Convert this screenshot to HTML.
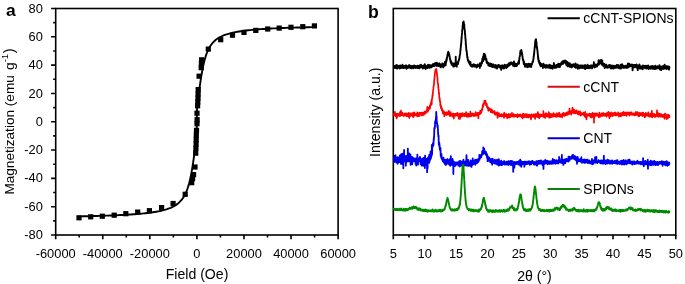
<!DOCTYPE html>
<html><head><meta charset="utf-8"><style>
html,body{margin:0;padding:0;background:#fff;width:685px;height:284px;overflow:hidden}
svg{display:block;will-change:transform}
text{font-family:"Liberation Sans", sans-serif;fill:#000}
</style></head><body>
<svg width="685" height="284" viewBox="0 0 685 284">
<text x="6" y="16.4" font-size="17.4" font-weight="bold">a</text>
<rect x="55.7" y="8.5" width="282.40" height="226.50" fill="none" stroke="#000" stroke-width="1.6"/>
<text x="42.9" y="239.10" font-size="12.85" text-anchor="end">-80</text>
<text x="42.9" y="210.79" font-size="12.85" text-anchor="end">-60</text>
<text x="42.9" y="182.47" font-size="12.85" text-anchor="end">-40</text>
<text x="42.9" y="154.16" font-size="12.85" text-anchor="end">-20</text>
<text x="42.9" y="125.85" font-size="12.85" text-anchor="end">0</text>
<text x="42.9" y="97.54" font-size="12.85" text-anchor="end">20</text>
<text x="42.9" y="69.22" font-size="12.85" text-anchor="end">40</text>
<text x="42.9" y="40.91" font-size="12.85" text-anchor="end">60</text>
<text x="42.9" y="12.60" font-size="12.85" text-anchor="end">80</text>
<text x="55.70" y="257.7" font-size="12.85" text-anchor="middle">-60000</text>
<text x="102.77" y="257.7" font-size="12.85" text-anchor="middle">-40000</text>
<text x="149.83" y="257.7" font-size="12.85" text-anchor="middle">-20000</text>
<text x="196.90" y="257.7" font-size="12.85" text-anchor="middle">0</text>
<text x="243.97" y="257.7" font-size="12.85" text-anchor="middle">20000</text>
<text x="291.03" y="257.7" font-size="12.85" text-anchor="middle">40000</text>
<text x="338.10" y="257.7" font-size="12.85" text-anchor="middle">60000</text>
<path d="M51.10 235.00H55.70 M51.10 206.69H55.70 M51.10 178.38H55.70 M51.10 150.06H55.70 M51.10 121.75H55.70 M51.10 93.44H55.70 M51.10 65.12H55.70 M51.10 36.81H55.70 M51.10 8.50H55.70 M53.20 220.84H55.70 M53.20 192.53H55.70 M53.20 164.22H55.70 M53.20 135.91H55.70 M53.20 107.59H55.70 M53.20 79.28H55.70 M53.20 50.97H55.70 M53.20 22.66H55.70 M55.70 235.00V239.30 M102.77 235.00V239.30 M149.83 235.00V239.30 M196.90 235.00V239.30 M243.97 235.00V239.30 M291.03 235.00V239.30 M338.10 235.00V239.30 M79.23 235.00V237.50 M126.30 235.00V237.50 M173.37 235.00V237.50 M220.43 235.00V237.50 M267.50 235.00V237.50 M314.57 235.00V237.50" stroke="#000" stroke-width="1.6" fill="none"/>
<text x="197" y="279.1" font-size="14.1" text-anchor="middle">Field (Oe)</text>
<text transform="translate(13.6,194.6) rotate(-90)" font-size="13.6">Magnetization (emu <tspan dx="1.5">g</tspan><tspan dy="-6" font-size="9.5">-1</tspan><tspan dy="6" dx="0.6" font-size="14.6">)</tspan></text>
<polyline points="79.23,216.40 81.03,216.36 82.82,216.32 84.62,216.28 86.41,216.24 88.21,216.20 90.00,216.15 91.80,216.11 93.59,216.06 95.39,216.01 97.18,215.96 98.98,215.91 100.77,215.85 102.57,215.79 104.36,215.73 106.16,215.67 107.95,215.61 109.75,215.54 111.54,215.47 113.34,215.40 115.13,215.32 116.93,215.24 118.72,215.16 120.52,215.07 122.31,214.98 124.11,214.88 125.90,214.78 127.70,214.68 129.49,214.57 131.29,214.45 133.08,214.32 134.88,214.19 136.67,214.05 138.47,213.91 140.26,213.75 142.06,213.58 143.85,213.40 145.65,213.21 147.44,213.00 149.24,212.78 151.03,212.55 152.82,212.29 154.62,212.01 156.41,211.70 158.21,211.37 160.00,211.01 161.80,210.60 163.59,210.16 165.39,209.66 167.18,209.10 168.98,208.48 170.77,207.76 172.57,206.94 174.36,205.99 176.16,204.87 177.95,203.54 179.75,201.94 181.54,199.96 183.34,197.48 185.13,194.31 185.13,194.31 185.19,194.19 185.25,194.07 185.31,193.95 185.37,193.83 185.43,193.70 185.49,193.58 185.55,193.45 185.61,193.33 185.66,193.20 185.72,193.07 185.78,192.94 185.84,192.81 185.90,192.67 185.96,192.54 186.02,192.40 186.08,192.27 186.14,192.13 186.19,191.99 186.25,191.85 186.31,191.71 186.37,191.57 186.43,191.42 186.49,191.28 186.55,191.13 186.61,190.98 186.67,190.83 186.73,190.68 186.78,190.53 186.84,190.38 186.90,190.22 186.96,190.07 187.02,189.91 187.08,189.75 187.14,189.59 187.20,189.43 187.26,189.26 187.32,189.10 187.37,188.93 187.43,188.76 187.49,188.59 187.55,188.42 187.61,188.24 187.67,188.07 187.73,187.89 187.79,187.71 187.85,187.53 187.91,187.35 187.96,187.17 188.02,186.98 188.08,186.79 188.14,186.61 188.20,186.42 188.26,186.22 188.32,186.03 188.38,185.83 188.44,185.63 188.50,185.43 188.55,185.23 188.61,185.03 188.67,184.82 188.73,184.61 188.79,184.40 188.85,184.19 188.91,183.98 188.97,183.76 189.03,183.54 189.09,183.32 189.14,183.10 189.20,182.88 189.26,182.65 189.32,182.42 189.38,182.19 189.44,181.96 189.50,181.73 189.56,181.49 189.62,181.25 189.67,181.01 189.73,180.76 189.79,180.52 189.85,180.27 189.91,180.02 189.97,179.76 190.03,179.51 190.09,179.25 190.15,178.99 190.21,178.73 190.26,178.46 190.32,178.20 190.38,177.93 190.44,177.65 190.50,177.38 190.56,177.10 190.62,176.82 190.68,176.54 190.74,176.26 190.80,175.97 190.85,175.68 190.91,175.39 190.97,175.09 191.03,174.79 191.09,174.49 191.15,174.19 191.21,173.88 191.27,173.58 191.33,173.27 191.39,172.95 191.44,172.64 191.50,172.32 191.56,172.00 191.62,171.67 191.68,171.35 191.74,171.02 191.80,170.68 191.86,170.35 191.92,170.01 191.98,169.67 192.03,169.33 192.09,168.98 192.15,168.64 192.21,168.28 192.27,167.93 192.33,167.57 192.39,167.22 192.45,166.85 192.51,166.49 192.56,166.12 192.62,165.75 192.68,165.38 192.74,165.00 192.80,164.63 192.86,164.25 192.92,163.86 192.98,163.48 193.04,163.09 193.10,162.70 193.15,162.30 193.21,161.91 193.27,161.51 193.33,161.11 193.39,160.70 193.45,160.29 193.51,159.89 193.57,159.47 193.63,159.06 193.69,158.64 193.74,158.22 193.80,157.80 193.86,157.38 193.92,156.95 193.98,156.52 194.04,156.09 194.10,155.66 194.16,155.22 194.22,154.79 194.28,154.35 194.33,153.91 194.39,153.46 194.45,153.01 194.51,152.57 194.57,152.12 194.63,151.66 194.69,151.21 194.75,150.75 194.81,150.30 194.87,149.84 194.92,149.38 194.98,148.91 195.04,148.45 195.10,147.98 195.16,147.51 195.22,147.04 195.28,146.57 195.34,146.10 195.40,145.62 195.45,145.15 195.51,144.67 195.57,144.19 195.63,143.72 195.69,143.23 195.75,142.75 195.81,142.27 195.87,141.79 195.93,141.30 195.99,140.82 196.04,140.33 196.10,139.84 196.16,139.36 196.22,138.87 196.28,138.38 196.34,137.88 196.40,137.38 196.46,136.87 196.52,136.31 196.58,135.62 196.63,134.62 196.69,132.84 196.75,129.48 196.81,123.97 196.87,117.60 196.93,112.74 196.99,109.97 197.05,108.51 197.11,107.64 197.17,107.01 197.22,106.47 197.28,105.96 197.34,105.46 197.40,104.97 197.46,104.48 197.52,103.99 197.58,103.50 197.64,103.02 197.70,102.53 197.76,102.05 197.81,101.56 197.87,101.08 197.93,100.60 197.99,100.11 198.05,99.63 198.11,99.16 198.17,98.68 198.23,98.20 198.29,97.73 198.35,97.25 198.40,96.78 198.46,96.31 198.52,95.84 198.58,95.37 198.64,94.91 198.70,94.44 198.76,93.98 198.82,93.52 198.88,93.06 198.93,92.60 198.99,92.15 199.05,91.69 199.11,91.24 199.17,90.79 199.23,90.34 199.29,89.90 199.35,89.46 199.41,89.01 199.47,88.58 199.52,88.14 199.58,87.70 199.64,87.27 199.70,86.84 199.76,86.41 199.82,85.99 199.88,85.57 199.94,85.14 200.00,84.73 200.06,84.31 200.11,83.90 200.17,83.49 200.23,83.08 200.29,82.67 200.35,82.27 200.41,81.87 200.47,81.47 200.53,81.07 200.59,80.68 200.65,80.29 200.70,79.90 200.76,79.52 200.82,79.13 200.88,78.76 200.94,78.38 201.00,78.00 201.06,77.63 201.12,77.26 201.18,76.90 201.24,76.53 201.29,76.17 201.35,75.81 201.41,75.46 201.47,75.10 201.53,74.75 201.59,74.41 201.65,74.06 201.71,73.72 201.77,73.38 201.82,73.04 201.88,72.71 201.94,72.38 202.00,72.05 202.06,71.73 202.12,71.40 202.18,71.08 202.24,70.76 202.30,70.45 202.36,70.14 202.41,69.83 202.47,69.52 202.53,69.21 202.59,68.91 202.65,68.61 202.71,68.32 202.77,68.02 202.83,67.73 202.89,67.44 202.95,67.15 203.00,66.87 203.06,66.59 203.12,66.31 203.18,66.03 203.24,65.76 203.30,65.49 203.36,65.22 203.42,64.95 203.48,64.69 203.54,64.43 203.59,64.17 203.65,63.91 203.71,63.66 203.77,63.40 203.83,63.15 203.89,62.91 203.95,62.66 204.01,62.42 204.07,62.18 204.13,61.94 204.18,61.70 204.24,61.47 204.30,61.23 204.36,61.00 204.42,60.78 204.48,60.55 204.54,60.33 204.60,60.11 204.66,59.89 204.71,59.67 204.77,59.45 204.83,59.24 204.89,59.03 204.95,58.82 205.01,58.61 205.07,58.41 205.13,58.20 205.19,58.00 205.25,57.80 205.30,57.61 205.36,57.41 205.42,57.22 205.48,57.02 205.54,56.83 205.60,56.65 205.66,56.46 205.72,56.27 205.78,56.09 205.84,55.91 205.89,55.73 205.95,55.55 206.01,55.38 206.07,55.20 206.13,55.03 206.19,54.86 206.25,54.69 206.31,54.52 206.37,54.35 206.43,54.19 206.48,54.02 206.54,53.86 206.60,53.70 206.66,53.54 206.72,53.38 206.78,53.23 206.84,53.07 206.90,52.92 206.96,52.77 207.02,52.62 207.07,52.47 207.13,52.32 207.19,52.18 207.25,52.03 207.31,51.89 207.37,51.74 207.43,51.60 207.49,51.46 207.55,51.33 207.61,51.19 207.66,51.05 207.72,50.92 207.78,50.78 207.84,50.65 207.90,50.52 207.96,50.39 208.02,50.26 208.08,50.14 208.14,50.01 208.19,49.88 208.25,49.76 208.31,49.64 208.37,49.51 208.43,49.39 208.49,49.27 208.55,49.15 208.61,49.04 208.67,48.92 208.67,48.92 210.46,45.81 212.26,43.37 214.05,41.43 215.85,39.85 217.64,38.54 219.44,37.44 221.23,36.49 223.03,35.68 224.82,34.97 226.62,34.35 228.41,33.80 230.21,33.31 232.00,32.86 233.80,32.46 235.59,32.10 237.39,31.77 239.18,31.47 240.98,31.19 242.77,30.94 244.56,30.70 246.36,30.48 248.15,30.27 249.95,30.08 251.74,29.91 253.54,29.74 255.33,29.58 257.13,29.44 258.92,29.30 260.72,29.17 262.51,29.04 264.31,28.93 266.10,28.81 267.90,28.71 269.69,28.61 271.49,28.51 273.28,28.42 275.08,28.34 276.87,28.25 278.67,28.17 280.46,28.10 282.26,28.02 284.05,27.95 285.85,27.89 287.64,27.82 289.44,27.76 291.23,27.70 293.03,27.65 294.82,27.59 296.62,27.54 298.41,27.49 300.21,27.44 302.00,27.39 303.80,27.34 305.59,27.30 307.39,27.25 309.18,27.21 310.98,27.17 312.77,27.13 314.57,27.10" fill="none" stroke="#000" stroke-width="1.9"/>
<g fill="#000"><rect x="76.40" y="215.20" width="5.2" height="5.2"/><rect x="88.10" y="214.20" width="5.2" height="5.2"/><rect x="99.70" y="213.60" width="5.2" height="5.2"/><rect x="111.60" y="212.60" width="5.2" height="5.2"/><rect x="123.20" y="211.10" width="5.2" height="5.2"/><rect x="135.10" y="209.50" width="5.2" height="5.2"/><rect x="146.80" y="208.10" width="5.2" height="5.2"/><rect x="159.00" y="205.00" width="5.2" height="5.2"/><rect x="170.50" y="200.90" width="5.2" height="5.2"/><rect x="182.60" y="191.70" width="5.2" height="5.2"/><rect x="189.10" y="180.10" width="5.2" height="5.2"/><rect x="190.00" y="176.00" width="5.2" height="5.2"/><rect x="191.00" y="172.00" width="5.2" height="5.2"/><rect x="192.40" y="164.40" width="5.2" height="5.2"/><rect x="193.10" y="150.60" width="5.2" height="5.2"/><rect x="193.30" y="145.90" width="5.2" height="5.2"/><rect x="193.50" y="141.40" width="5.2" height="5.2"/><rect x="193.60" y="136.90" width="5.2" height="5.2"/><rect x="193.70" y="132.40" width="5.2" height="5.2"/><rect x="193.90" y="127.80" width="5.2" height="5.2"/><rect x="194.40" y="121.10" width="5.2" height="5.2"/><rect x="194.50" y="117.10" width="5.2" height="5.2"/><rect x="194.40" y="110.60" width="5.2" height="5.2"/><rect x="195.00" y="103.20" width="5.2" height="5.2"/><rect x="195.20" y="99.40" width="5.2" height="5.2"/><rect x="195.40" y="95.40" width="5.2" height="5.2"/><rect x="195.50" y="91.40" width="5.2" height="5.2"/><rect x="195.60" y="87.00" width="5.2" height="5.2"/><rect x="196.50" y="73.60" width="5.2" height="5.2"/><rect x="198.60" y="65.10" width="5.2" height="5.2"/><rect x="198.80" y="60.90" width="5.2" height="5.2"/><rect x="199.00" y="57.20" width="5.2" height="5.2"/><rect x="205.70" y="46.50" width="5.2" height="5.2"/><rect x="218.10" y="37.10" width="5.2" height="5.2"/><rect x="229.90" y="32.60" width="5.2" height="5.2"/><rect x="241.40" y="29.80" width="5.2" height="5.2"/><rect x="253.20" y="27.80" width="5.2" height="5.2"/><rect x="265.10" y="26.40" width="5.2" height="5.2"/><rect x="276.60" y="25.50" width="5.2" height="5.2"/><rect x="288.40" y="24.70" width="5.2" height="5.2"/><rect x="300.20" y="24.10" width="5.2" height="5.2"/><rect x="311.80" y="23.30" width="5.2" height="5.2"/></g>
<text x="368" y="17.6" font-size="17.6" font-weight="bold">b</text>
<rect x="393.3" y="8.5" width="282.50" height="226.50" fill="none" stroke="#000" stroke-width="1.6"/>
<text x="393.30" y="257.7" font-size="12.85" text-anchor="middle">5</text>
<text x="424.69" y="257.7" font-size="12.85" text-anchor="middle">10</text>
<text x="456.08" y="257.7" font-size="12.85" text-anchor="middle">15</text>
<text x="487.47" y="257.7" font-size="12.85" text-anchor="middle">20</text>
<text x="518.86" y="257.7" font-size="12.85" text-anchor="middle">25</text>
<text x="550.24" y="257.7" font-size="12.85" text-anchor="middle">30</text>
<text x="581.63" y="257.7" font-size="12.85" text-anchor="middle">35</text>
<text x="613.02" y="257.7" font-size="12.85" text-anchor="middle">40</text>
<text x="644.41" y="257.7" font-size="12.85" text-anchor="middle">45</text>
<text x="675.80" y="257.7" font-size="12.85" text-anchor="middle">50</text>
<path d="M393.30 235.00V239.30 M424.69 235.00V239.30 M456.08 235.00V239.30 M487.47 235.00V239.30 M518.86 235.00V239.30 M550.24 235.00V239.30 M581.63 235.00V239.30 M613.02 235.00V239.30 M644.41 235.00V239.30 M675.80 235.00V239.30 M408.99 235.00V237.50 M440.38 235.00V237.50 M471.77 235.00V237.50 M503.16 235.00V237.50 M534.55 235.00V237.50 M565.94 235.00V237.50 M597.33 235.00V237.50 M628.72 235.00V237.50 M660.11 235.00V237.50" stroke="#000" stroke-width="1.6" fill="none"/>
<text x="534.5" y="281" font-size="14.1" text-anchor="middle">2θ (°)</text>
<text transform="translate(379.6,112.3) rotate(-90)" font-size="14.1" text-anchor="middle">Intensity (a.u.)</text>
<polyline points="393.60,66.85 393.73,67.09 393.85,66.63 393.98,66.14 394.10,66.49 394.23,66.06 394.35,66.90 394.48,67.93 394.60,66.46 394.73,66.36 394.85,67.25 394.98,67.14 395.10,66.94 395.23,66.11 395.35,66.83 395.48,67.41 395.60,65.78 395.73,66.49 395.85,65.34 395.98,68.09 396.10,65.39 396.23,66.67 396.35,65.85 396.48,67.08 396.60,66.99 396.73,66.71 396.85,64.85 396.98,66.43 397.10,66.83 397.23,68.60 397.35,65.64 397.48,66.48 397.60,66.08 397.73,66.22 397.85,67.72 397.98,66.22 398.10,66.84 398.23,67.58 398.35,66.40 398.48,66.78 398.60,66.96 398.73,66.92 398.85,65.89 398.98,66.93 399.10,67.96 399.23,65.64 399.35,67.56 399.48,66.97 399.60,66.36 399.73,68.48 399.85,67.49 399.98,65.92 400.10,66.94 400.23,67.34 400.35,65.46 400.48,67.43 400.60,66.83 400.73,67.41 400.85,68.03 400.98,66.34 401.10,67.04 401.23,66.51 401.35,66.98 401.48,65.93 401.60,66.42 401.73,66.73 401.85,67.60 401.98,67.80 402.10,65.83 402.23,66.25 402.35,67.40 402.48,64.71 402.60,66.52 402.73,66.81 402.85,67.89 402.98,67.44 403.10,66.63 403.23,66.59 403.35,66.69 403.48,68.11 403.60,66.55 403.73,66.65 403.85,67.17 403.98,66.80 404.10,66.73 404.23,66.00 404.35,66.88 404.48,66.54 404.60,67.83 404.73,66.76 404.85,66.88 404.98,67.43 405.10,66.62 405.23,67.74 405.35,66.89 405.48,67.36 405.60,65.86 405.73,67.17 405.85,65.55 405.98,65.27 406.10,65.79 406.23,66.18 406.35,67.03 406.48,68.70 406.60,66.23 406.73,66.40 406.85,68.44 406.98,67.30 407.10,66.76 407.23,66.74 407.35,67.46 407.48,67.32 407.60,66.08 407.73,66.84 407.85,66.93 407.98,66.06 408.10,67.11 408.23,66.22 408.35,67.68 408.48,67.06 408.60,66.98 408.73,66.43 408.85,66.81 408.98,65.31 409.10,66.28 409.23,67.20 409.35,65.20 409.48,67.58 409.60,65.51 409.73,67.51 409.85,66.23 409.98,67.53 410.10,67.01 410.23,65.68 410.35,67.91 410.48,68.06 410.60,66.86 410.73,66.69 410.85,66.78 410.98,66.13 411.10,67.79 411.23,66.48 411.35,66.87 411.48,66.28 411.60,68.21 411.73,65.89 411.85,67.92 411.98,66.79 412.10,67.68 412.23,66.92 412.35,66.36 412.48,66.65 412.60,66.46 412.73,66.92 412.85,66.61 412.98,66.67 413.10,65.81 413.23,66.27 413.35,68.23 413.48,66.37 413.60,66.07 413.73,67.18 413.85,68.04 413.98,65.75 414.10,66.74 414.23,66.41 414.35,65.50 414.48,67.50 414.60,66.89 414.73,66.97 414.85,66.31 414.98,67.27 415.10,66.48 415.23,66.80 415.35,66.02 415.48,65.94 415.60,67.98 415.73,66.50 415.85,67.14 415.98,66.88 416.10,66.56 416.23,66.50 416.35,67.41 416.48,66.67 416.60,66.79 416.73,66.93 416.85,67.85 416.98,67.45 417.10,67.21 417.23,66.46 417.35,65.80 417.48,67.66 417.60,67.68 417.73,66.79 417.85,67.34 417.98,67.53 418.10,67.57 418.23,67.64 418.35,66.54 418.48,68.11 418.60,65.90 418.73,67.59 418.85,67.29 418.98,67.60 419.10,68.40 419.23,68.09 419.35,65.98 419.48,65.55 419.60,67.55 419.73,66.08 419.85,66.88 419.98,67.56 420.10,65.58 420.23,65.20 420.35,67.10 420.48,67.52 420.60,66.69 420.73,66.92 420.85,66.20 420.98,64.67 421.10,66.75 421.23,66.11 421.35,65.57 421.48,67.29 421.60,66.83 421.73,67.20 421.85,66.09 421.98,66.35 422.10,66.07 422.23,66.16 422.35,67.03 422.48,66.24 422.60,67.15 422.73,67.14 422.85,68.48 422.98,65.75 423.10,67.57 423.23,66.79 423.35,66.85 423.48,65.70 423.60,66.48 423.73,67.45 423.85,66.78 423.98,67.25 424.10,66.61 424.23,67.77 424.35,66.82 424.48,65.08 424.60,66.28 424.73,65.26 424.85,64.23 424.98,66.40 425.10,67.89 425.23,66.86 425.35,65.88 425.48,66.06 425.60,69.05 425.73,66.93 425.85,66.84 425.98,66.75 426.10,66.82 426.23,67.43 426.35,67.22 426.48,66.95 426.60,65.94 426.73,67.18 426.85,66.21 426.98,67.63 427.10,65.73 427.23,66.63 427.35,66.73 427.48,65.67 427.60,68.10 427.73,67.88 427.85,66.33 427.98,65.20 428.10,66.98 428.23,64.58 428.35,66.86 428.48,66.60 428.60,66.70 428.73,65.76 428.85,66.39 428.98,66.45 429.10,67.52 429.23,66.82 429.35,66.53 429.48,67.74 429.60,66.05 429.73,66.16 429.85,65.00 429.98,67.68 430.10,66.52 430.23,67.11 430.35,66.88 430.48,66.40 430.60,66.45 430.73,66.04 430.85,66.05 430.98,66.21 431.10,67.34 431.23,66.53 431.35,66.00 431.48,65.54 431.60,65.45 431.73,67.19 431.85,66.26 431.98,65.85 432.10,65.47 432.23,64.80 432.35,65.58 432.48,66.27 432.60,65.19 432.73,65.26 432.85,65.20 432.98,65.40 433.10,63.97 433.23,64.98 433.35,64.42 433.48,65.74 433.60,64.34 433.73,65.35 433.85,66.03 433.98,64.49 434.10,64.18 434.23,64.75 434.35,64.52 434.48,63.66 434.60,64.75 434.73,65.93 434.85,64.05 434.98,64.03 435.10,63.30 435.23,64.34 435.35,63.03 435.48,63.10 435.60,64.97 435.73,63.19 435.85,64.75 435.98,65.08 436.10,64.05 436.23,64.27 436.35,65.39 436.48,63.67 436.60,63.36 436.73,62.77 436.85,63.91 436.98,66.05 437.10,64.70 437.23,63.21 437.35,63.32 437.48,63.65 437.60,64.33 437.73,63.99 437.85,64.38 437.98,64.50 438.10,64.08 438.23,64.35 438.35,64.61 438.48,64.44 438.60,64.98 438.73,66.13 438.85,65.17 438.98,64.81 439.10,63.48 439.23,65.20 439.35,63.39 439.48,63.88 439.60,65.75 439.73,65.69 439.85,65.06 439.98,63.86 440.10,64.98 440.23,64.78 440.35,65.88 440.48,67.22 440.60,67.34 440.73,64.87 440.85,64.59 440.98,65.52 441.10,65.45 441.23,64.70 441.35,65.74 441.48,65.05 441.60,66.58 441.73,66.56 441.85,66.59 441.98,65.36 442.10,66.16 442.23,65.65 442.35,63.40 442.48,65.48 442.60,64.71 442.73,64.59 442.85,66.37 442.98,65.57 443.10,65.88 443.23,67.36 443.35,64.28 443.48,65.00 443.60,65.19 443.73,65.87 443.85,65.20 443.98,66.27 444.10,65.54 444.23,64.33 444.35,64.46 444.48,65.75 444.60,65.36 444.73,63.34 444.85,62.04 444.98,65.01 445.10,65.41 445.23,63.82 445.35,63.64 445.48,62.71 445.60,65.34 445.73,62.84 445.85,63.89 445.98,61.71 446.10,61.11 446.23,60.01 446.35,60.55 446.48,61.12 446.60,58.78 446.73,60.07 446.85,58.88 446.98,57.17 447.10,56.98 447.23,56.39 447.35,56.10 447.48,55.11 447.60,54.31 447.73,54.21 447.85,53.17 447.98,52.56 448.10,53.25 448.23,53.78 448.35,51.75 448.48,52.98 448.60,52.57 448.73,52.52 448.85,54.30 448.98,53.59 449.10,55.67 449.23,54.37 449.35,55.86 449.48,55.96 449.60,56.14 449.73,57.82 449.85,57.83 449.98,59.03 450.10,59.09 450.23,58.81 450.35,60.13 450.48,60.75 450.60,61.94 450.73,60.89 450.85,61.98 450.98,61.01 451.10,63.25 451.23,62.17 451.35,61.87 451.48,63.51 451.60,64.66 451.73,62.76 451.85,63.28 451.98,63.70 452.10,63.53 452.23,64.85 452.35,64.00 452.48,64.15 452.60,65.26 452.73,64.25 452.85,65.25 452.98,64.17 453.10,64.01 453.23,63.54 453.35,66.51 453.48,64.78 453.60,65.24 453.73,65.03 453.85,65.18 453.98,65.09 454.10,66.57 454.23,64.20 454.35,63.78 454.48,64.20 454.60,63.92 454.73,65.56 454.85,65.60 454.98,64.14 455.10,63.77 455.23,64.56 455.35,65.92 455.48,62.52 455.60,65.15 455.73,56.77 455.85,65.46 455.98,63.71 456.10,64.29 456.23,63.25 456.35,63.60 456.48,65.42 456.60,64.88 456.73,66.65 456.85,63.34 456.98,62.42 457.10,63.51 457.23,63.67 457.35,63.49 457.48,63.34 457.60,62.35 457.73,63.02 457.85,62.84 457.98,63.69 458.10,63.92 458.23,62.05 458.35,61.26 458.48,61.51 458.60,60.73 458.73,60.25 458.85,60.39 458.98,59.15 459.10,59.98 459.23,58.87 459.35,58.58 459.48,57.60 459.60,56.48 459.73,55.57 459.85,55.35 459.98,54.25 460.10,53.97 460.23,52.81 460.35,50.70 460.48,50.75 460.60,48.48 460.73,47.85 460.85,46.84 460.98,44.09 461.10,44.46 461.23,43.08 461.35,41.38 461.48,39.41 461.60,38.19 461.73,36.16 461.85,35.18 461.98,33.41 462.10,32.41 462.23,29.88 462.35,29.60 462.48,28.90 462.60,26.65 462.73,25.24 462.85,24.99 462.98,22.33 463.10,23.31 463.23,22.59 463.35,22.28 463.48,22.21 463.60,21.45 463.73,22.03 463.85,23.21 463.98,23.70 464.10,24.35 464.23,23.95 464.35,26.72 464.48,28.46 464.60,29.67 464.73,30.46 464.85,30.50 464.98,34.01 465.10,34.67 465.23,34.31 465.35,38.19 465.48,38.22 465.60,39.89 465.73,41.89 465.85,44.86 465.98,44.93 466.10,46.79 466.23,49.26 466.35,50.37 466.48,50.19 466.60,51.19 466.73,51.43 466.85,52.88 466.98,54.71 467.10,55.56 467.23,56.14 467.35,57.61 467.48,56.90 467.60,58.13 467.73,59.36 467.85,59.79 467.98,60.69 468.10,60.62 468.23,60.49 468.35,61.42 468.48,60.68 468.60,60.50 468.73,62.58 468.85,62.34 468.98,62.88 469.10,61.50 469.23,62.78 469.35,62.78 469.48,62.74 469.60,61.79 469.73,63.47 469.85,64.59 469.98,64.30 470.10,63.63 470.23,64.20 470.35,64.91 470.48,62.19 470.60,64.38 470.73,65.00 470.85,65.18 470.98,66.07 471.10,65.68 471.23,65.08 471.35,65.13 471.48,65.57 471.60,65.80 471.73,65.01 471.85,65.82 471.98,66.70 472.10,65.05 472.23,65.18 472.35,65.41 472.48,66.37 472.60,65.30 472.73,66.53 472.85,64.62 472.98,65.27 473.10,65.29 473.23,66.10 473.35,66.34 473.48,64.32 473.60,64.82 473.73,65.84 473.85,65.06 473.98,64.39 474.10,66.46 474.23,66.04 474.35,66.06 474.48,65.30 474.60,66.52 474.73,65.52 474.85,66.60 474.98,65.00 475.10,65.06 475.23,65.92 475.35,65.20 475.48,66.31 475.60,65.99 475.73,65.05 475.85,65.85 475.98,65.52 476.10,66.53 476.23,65.30 476.35,65.45 476.48,66.77 476.60,67.60 476.73,67.40 476.85,65.85 476.98,65.97 477.10,67.02 477.23,65.69 477.35,65.00 477.48,65.87 477.60,66.13 477.73,65.09 477.85,64.42 477.98,64.58 478.10,66.24 478.23,65.08 478.35,65.56 478.48,65.82 478.60,66.11 478.73,65.32 478.85,65.96 478.98,64.81 479.10,64.75 479.23,64.61 479.35,66.29 479.48,65.30 479.60,64.67 479.73,64.90 479.85,67.91 479.98,63.15 480.10,63.64 480.23,63.97 480.35,64.38 480.48,66.57 480.60,66.50 480.73,64.14 480.85,64.61 480.98,65.49 481.10,63.43 481.23,63.09 481.35,64.09 481.48,63.24 481.60,63.08 481.73,61.82 481.85,63.43 481.98,62.90 482.10,61.60 482.23,61.30 482.35,58.72 482.48,60.43 482.60,59.33 482.73,59.39 482.85,59.14 482.98,57.88 483.10,56.37 483.23,61.06 483.35,56.30 483.48,56.26 483.60,58.94 483.73,55.62 483.85,53.80 483.98,56.44 484.10,55.54 484.23,56.17 484.35,56.87 484.48,55.38 484.60,54.05 484.73,54.97 484.85,54.96 484.98,55.80 485.10,59.59 485.23,55.26 485.35,57.49 485.48,56.39 485.60,58.21 485.73,58.27 485.85,58.49 485.98,59.06 486.10,59.06 486.23,59.36 486.35,58.85 486.48,60.72 486.60,62.32 486.73,62.73 486.85,62.49 486.98,62.26 487.10,61.41 487.23,63.34 487.35,62.36 487.48,62.56 487.60,62.58 487.73,63.06 487.85,62.81 487.98,63.25 488.10,62.59 488.23,63.30 488.35,65.55 488.48,63.79 488.60,63.76 488.73,64.48 488.85,64.73 488.98,63.36 489.10,64.18 489.23,65.16 489.35,64.73 489.48,64.69 489.60,65.91 489.73,64.20 489.85,64.87 489.98,64.46 490.10,66.13 490.23,63.44 490.35,64.53 490.48,64.70 490.60,65.71 490.73,65.72 490.85,66.41 490.98,64.09 491.10,66.00 491.23,65.21 491.35,64.96 491.48,65.97 491.60,64.85 491.73,63.97 491.85,65.38 491.98,64.52 492.10,65.24 492.23,66.09 492.35,66.08 492.48,67.13 492.60,65.74 492.73,66.35 492.85,65.36 492.98,65.26 493.10,65.05 493.23,66.40 493.35,65.56 493.48,64.52 493.60,66.68 493.73,66.06 493.85,66.46 493.98,67.10 494.10,66.72 494.23,66.26 494.35,67.24 494.48,66.61 494.60,66.60 494.73,66.63 494.85,65.15 494.98,66.20 495.10,66.13 495.23,66.52 495.35,65.28 495.48,67.68 495.60,66.47 495.73,65.43 495.85,65.04 495.98,66.19 496.10,66.35 496.23,65.86 496.35,66.52 496.48,65.94 496.60,66.90 496.73,65.88 496.85,66.44 496.98,67.26 497.10,68.54 497.23,65.68 497.35,66.12 497.48,65.82 497.60,67.13 497.73,65.59 497.85,66.12 497.98,66.49 498.10,65.73 498.23,65.75 498.35,66.14 498.48,64.84 498.60,65.37 498.73,66.20 498.85,66.65 498.98,66.38 499.10,65.12 499.23,66.02 499.35,67.18 499.48,66.98 499.60,67.32 499.73,65.83 499.85,67.05 499.98,66.08 500.10,65.61 500.23,65.90 500.35,67.70 500.48,66.72 500.60,67.47 500.73,66.16 500.85,67.30 500.98,66.06 501.10,69.79 501.23,68.53 501.35,67.16 501.48,66.14 501.60,66.47 501.73,66.80 501.85,67.51 501.98,66.15 502.10,65.14 502.23,66.31 502.35,66.55 502.48,66.62 502.60,67.58 502.73,66.78 502.85,67.17 502.98,65.64 503.10,67.21 503.23,68.52 503.35,67.13 503.48,66.71 503.60,66.62 503.73,67.93 503.85,65.75 503.98,66.40 504.10,66.85 504.23,68.36 504.35,66.18 504.48,66.70 504.60,64.78 504.73,66.54 504.85,66.32 504.98,65.51 505.10,66.39 505.23,67.10 505.35,65.61 505.48,66.17 505.60,66.88 505.73,65.47 505.85,66.46 505.98,65.44 506.10,67.17 506.23,68.09 506.35,67.83 506.48,66.01 506.60,66.74 506.73,66.21 506.85,66.16 506.98,67.27 507.10,64.93 507.23,66.78 507.35,65.84 507.48,66.95 507.60,65.92 507.73,65.16 507.85,65.85 507.98,66.15 508.10,65.51 508.23,65.79 508.35,64.89 508.48,63.51 508.60,65.84 508.73,65.58 508.85,65.03 508.98,64.86 509.10,65.53 509.23,64.22 509.35,63.90 509.48,64.20 509.60,65.18 509.73,63.00 509.85,64.95 509.98,63.36 510.10,62.88 510.23,64.66 510.35,63.47 510.48,62.41 510.60,63.07 510.73,64.02 510.85,64.15 510.98,62.80 511.10,63.42 511.23,63.63 511.35,62.52 511.48,63.32 511.60,63.02 511.73,62.64 511.85,62.71 511.98,63.21 512.10,63.24 512.23,62.83 512.35,63.03 512.48,64.34 512.60,63.72 512.73,64.35 512.85,64.71 512.98,64.32 513.10,65.77 513.23,63.40 513.35,64.81 513.48,64.01 513.60,65.84 513.73,65.82 513.85,62.98 513.98,61.45 514.10,65.25 514.23,65.43 514.35,65.46 514.48,64.89 514.60,65.37 514.73,66.34 514.85,65.06 514.98,65.99 515.10,63.40 515.23,65.75 515.35,64.45 515.48,66.06 515.60,65.13 515.73,64.61 515.85,65.32 515.98,64.60 516.10,64.59 516.23,64.04 516.35,65.25 516.48,65.63 516.60,66.01 516.73,65.02 516.85,65.90 516.98,64.99 517.10,64.81 517.23,65.23 517.35,63.65 517.48,64.21 517.60,64.12 517.73,63.98 517.85,63.95 517.98,62.92 518.10,64.17 518.23,62.72 518.35,63.06 518.48,61.64 518.60,62.17 518.73,61.73 518.85,60.58 518.98,63.66 519.10,60.11 519.23,60.63 519.35,59.34 519.48,57.38 519.60,56.92 519.73,56.87 519.85,55.87 519.98,55.15 520.10,54.19 520.23,52.30 520.35,52.94 520.48,50.78 520.60,52.36 520.73,51.07 520.85,50.78 520.98,50.99 521.10,51.32 521.23,50.02 521.35,49.95 521.48,50.86 521.60,53.45 521.73,51.78 521.85,54.39 521.98,52.90 522.10,54.93 522.23,54.01 522.35,56.05 522.48,56.26 522.60,57.17 522.73,58.36 522.85,59.97 522.98,59.36 523.10,59.91 523.23,59.60 523.35,60.19 523.48,61.22 523.60,62.54 523.73,62.27 523.85,64.08 523.98,61.45 524.10,63.12 524.23,64.35 524.35,63.62 524.48,63.50 524.60,64.12 524.73,63.41 524.85,64.77 524.98,66.76 525.10,65.85 525.23,64.16 525.35,64.44 525.48,64.90 525.60,66.10 525.73,64.70 525.85,64.86 525.98,66.17 526.10,66.19 526.23,65.24 526.35,64.68 526.48,64.36 526.60,65.06 526.73,63.86 526.85,66.26 526.98,65.17 527.10,66.08 527.23,67.20 527.35,66.65 527.48,64.80 527.60,66.42 527.73,66.65 527.85,65.13 527.98,64.96 528.10,65.63 528.23,64.44 528.35,66.89 528.48,63.78 528.60,64.81 528.73,65.46 528.85,65.49 528.98,65.78 529.10,65.85 529.23,65.44 529.35,66.50 529.48,63.86 529.60,65.54 529.73,64.94 529.85,65.59 529.98,65.62 530.10,64.68 530.23,64.85 530.35,65.95 530.48,65.55 530.60,64.67 530.73,66.78 530.85,66.92 530.98,63.83 531.10,64.08 531.23,66.82 531.35,65.33 531.48,64.75 531.60,64.27 531.73,63.84 531.85,63.92 531.98,63.44 532.10,64.25 532.23,63.07 532.35,62.73 532.48,61.79 532.60,62.33 532.73,61.23 532.85,61.33 532.98,61.78 533.10,60.66 533.23,60.13 533.35,59.30 533.48,58.30 533.60,57.32 533.73,56.28 533.85,56.18 533.98,53.69 534.10,54.56 534.23,52.40 534.35,50.61 534.48,49.63 534.60,48.27 534.73,47.73 534.85,45.83 534.98,46.16 535.10,43.52 535.23,41.31 535.35,41.64 535.48,39.86 535.60,42.00 535.73,44.59 535.85,40.81 535.98,39.24 536.10,39.94 536.23,42.42 536.35,41.88 536.48,42.42 536.60,44.19 536.73,47.42 536.85,46.54 536.98,46.79 537.10,48.16 537.23,49.59 537.35,49.82 537.48,50.65 537.60,52.69 537.73,53.01 537.85,54.78 537.98,55.91 538.10,58.65 538.23,56.98 538.35,59.94 538.48,59.11 538.60,60.29 538.73,61.41 538.85,60.76 538.98,61.01 539.10,60.83 539.23,61.82 539.35,63.36 539.48,63.30 539.60,62.75 539.73,63.53 539.85,64.09 539.98,64.67 540.10,62.63 540.23,64.41 540.35,63.30 540.48,63.96 540.60,66.29 540.73,63.35 540.85,64.93 540.98,65.46 541.10,65.06 541.23,64.78 541.35,65.44 541.48,65.54 541.60,65.54 541.73,64.15 541.85,65.58 541.98,65.06 542.10,65.34 542.23,66.00 542.35,66.37 542.48,66.61 542.60,65.53 542.73,66.69 542.85,68.04 542.98,66.92 543.10,67.15 543.23,65.94 543.35,65.95 543.48,63.77 543.60,65.04 543.73,66.32 543.85,65.74 543.98,65.89 544.10,64.81 544.23,65.51 544.35,66.22 544.48,66.96 544.60,67.06 544.73,66.22 544.85,66.15 544.98,65.65 545.10,66.64 545.23,66.11 545.35,66.83 545.48,67.76 545.60,66.34 545.73,65.18 545.85,65.70 545.98,65.23 546.10,65.45 546.23,67.46 546.35,66.60 546.48,65.21 546.60,66.96 546.73,67.45 546.85,66.16 546.98,65.92 547.10,66.19 547.23,66.70 547.35,66.99 547.48,67.43 547.60,67.46 547.73,67.44 547.85,67.59 547.98,67.03 548.10,65.28 548.23,66.41 548.35,66.77 548.48,66.21 548.60,67.25 548.73,66.24 548.85,65.79 548.98,67.69 549.10,67.07 549.23,67.87 549.35,67.28 549.48,67.39 549.60,66.82 549.73,64.58 549.85,66.01 549.98,66.18 550.10,65.76 550.23,66.71 550.35,67.51 550.48,66.17 550.60,65.65 550.73,68.18 550.85,66.19 550.98,65.57 551.10,66.75 551.23,66.90 551.35,65.99 551.48,67.19 551.60,66.17 551.73,65.82 551.85,66.70 551.98,67.17 552.10,66.04 552.23,66.81 552.35,66.47 552.48,68.81 552.60,65.98 552.73,67.65 552.85,66.50 552.98,66.44 553.10,67.11 553.23,67.25 553.35,66.81 553.48,66.79 553.60,66.04 553.73,66.09 553.85,62.96 553.98,66.97 554.10,67.62 554.23,66.83 554.35,67.62 554.48,67.70 554.60,66.61 554.73,65.28 554.85,65.52 554.98,65.30 555.10,67.72 555.23,65.76 555.35,67.41 555.48,66.88 555.60,67.77 555.73,67.19 555.85,66.29 555.98,66.20 556.10,66.41 556.23,66.47 556.35,65.89 556.48,66.27 556.60,67.56 556.73,64.89 556.85,66.43 556.98,65.48 557.10,66.32 557.23,66.82 557.35,66.07 557.48,66.70 557.60,64.78 557.73,66.90 557.85,65.49 557.98,66.43 558.10,66.04 558.23,63.77 558.35,65.19 558.48,65.92 558.60,66.93 558.73,65.86 558.85,65.78 558.98,64.38 559.10,66.59 559.23,66.82 559.35,65.32 559.48,65.05 559.60,63.85 559.73,65.77 559.85,67.14 559.98,65.46 560.10,65.81 560.23,65.14 560.35,63.82 560.48,65.57 560.60,63.41 560.73,64.13 560.85,64.41 560.98,64.78 561.10,64.30 561.23,64.16 561.35,63.12 561.48,62.58 561.60,63.55 561.73,62.81 561.85,62.21 561.98,62.13 562.10,62.63 562.23,61.43 562.35,61.72 562.48,61.38 562.60,62.72 562.73,62.80 562.85,63.98 562.98,61.08 563.10,61.65 563.23,62.84 563.35,61.86 563.48,61.71 563.60,63.28 563.73,61.60 563.85,60.91 563.98,60.75 564.10,62.06 564.23,62.03 564.35,60.69 564.48,61.01 564.60,62.26 564.73,62.33 564.85,61.40 564.98,62.46 565.10,62.48 565.23,60.67 565.35,61.93 565.48,62.59 565.60,61.89 565.73,60.73 565.85,62.32 565.98,63.25 566.10,64.02 566.23,61.11 566.35,65.06 566.48,62.18 566.60,63.96 566.73,64.29 566.85,64.20 566.98,63.65 567.10,62.70 567.23,64.24 567.35,63.27 567.48,61.93 567.60,66.31 567.73,64.72 567.85,65.70 567.98,63.61 568.10,65.60 568.23,65.78 568.35,65.84 568.48,64.66 568.60,63.79 568.73,64.68 568.85,63.13 568.98,63.60 569.10,65.09 569.23,64.29 569.35,65.00 569.48,65.10 569.60,66.78 569.73,63.10 569.85,65.29 569.98,66.33 570.10,64.77 570.23,65.16 570.35,66.19 570.48,64.49 570.60,65.29 570.73,64.48 570.85,65.65 570.98,66.88 571.10,64.99 571.23,65.78 571.35,64.90 571.48,64.71 571.60,64.65 571.73,66.81 571.85,67.54 571.98,66.04 572.10,65.08 572.23,66.22 572.35,65.39 572.48,66.30 572.60,65.90 572.73,65.89 572.85,66.15 572.98,65.20 573.10,65.34 573.23,64.28 573.35,65.30 573.48,64.52 573.60,65.54 573.73,64.89 573.85,65.73 573.98,66.01 574.10,64.52 574.23,65.00 574.35,64.90 574.48,66.25 574.60,67.02 574.73,66.34 574.85,65.39 574.98,66.84 575.10,64.46 575.23,66.88 575.35,65.16 575.48,63.47 575.60,67.83 575.73,66.98 575.85,64.90 575.98,65.87 576.10,65.58 576.23,65.85 576.35,64.59 576.48,65.25 576.60,66.18 576.73,66.00 576.85,66.80 576.98,65.92 577.10,67.75 577.23,65.32 577.35,66.11 577.48,64.39 577.60,64.94 577.73,67.02 577.85,68.75 577.98,66.42 578.10,65.97 578.23,65.20 578.35,65.63 578.48,65.66 578.60,65.70 578.73,66.71 578.85,66.65 578.98,65.68 579.10,65.44 579.23,66.41 579.35,66.12 579.48,67.04 579.60,68.36 579.73,66.93 579.85,66.24 579.98,66.15 580.10,65.62 580.23,65.59 580.35,65.53 580.48,66.03 580.60,66.02 580.73,66.97 580.85,66.07 580.98,66.25 581.10,65.45 581.23,67.75 581.35,66.85 581.48,67.89 581.60,67.11 581.73,67.68 581.85,66.30 581.98,67.08 582.10,67.43 582.23,65.55 582.35,67.48 582.48,67.91 582.60,66.90 582.73,67.18 582.85,67.60 582.98,66.05 583.10,66.93 583.23,65.89 583.35,66.06 583.48,66.11 583.60,66.51 583.73,66.75 583.85,67.01 583.98,65.48 584.10,68.27 584.23,67.60 584.35,67.25 584.48,66.37 584.60,66.60 584.73,67.12 584.85,67.01 584.98,65.30 585.10,67.29 585.23,69.08 585.35,65.18 585.48,67.51 585.60,67.00 585.73,66.61 585.85,67.83 585.98,66.70 586.10,66.84 586.23,67.91 586.35,66.55 586.48,66.37 586.60,66.81 586.73,66.35 586.85,67.99 586.98,65.98 587.10,67.44 587.23,65.69 587.35,67.27 587.48,66.64 587.60,64.60 587.73,66.72 587.85,65.85 587.98,66.36 588.10,67.99 588.23,65.81 588.35,65.85 588.48,67.91 588.60,66.82 588.73,67.99 588.85,66.99 588.98,66.00 589.10,66.67 589.23,67.73 589.35,67.49 589.48,66.72 589.60,66.76 589.73,66.62 589.85,66.24 589.98,68.30 590.10,66.72 590.23,65.78 590.35,66.31 590.48,67.30 590.60,67.23 590.73,66.59 590.85,66.15 590.98,66.71 591.10,65.31 591.23,65.61 591.35,67.34 591.48,66.28 591.60,66.98 591.73,67.67 591.85,67.20 591.98,66.68 592.10,68.40 592.23,67.20 592.35,66.35 592.48,67.24 592.60,66.96 592.73,65.92 592.85,66.67 592.98,66.47 593.10,64.98 593.23,66.45 593.35,66.35 593.48,66.21 593.60,65.20 593.73,66.25 593.85,62.17 593.98,66.60 594.10,64.30 594.23,67.00 594.35,65.46 594.48,66.26 594.60,67.49 594.73,65.82 594.85,65.95 594.98,67.22 595.10,65.99 595.23,66.02 595.35,66.41 595.48,67.05 595.60,64.33 595.73,65.41 595.85,65.21 595.98,65.08 596.10,65.21 596.23,65.15 596.35,66.01 596.48,64.95 596.60,65.12 596.73,65.83 596.85,65.93 596.98,65.40 597.10,66.52 597.23,65.32 597.35,64.41 597.48,64.74 597.60,63.90 597.73,64.73 597.85,65.06 597.98,63.52 598.10,63.85 598.23,64.77 598.35,63.27 598.48,63.66 598.60,60.23 598.73,62.47 598.85,62.54 598.98,64.52 599.10,62.28 599.23,62.01 599.35,61.82 599.48,61.98 599.60,62.49 599.73,61.98 599.85,63.36 599.98,61.78 600.10,62.69 600.23,61.69 600.35,61.92 600.48,60.26 600.60,61.32 600.73,61.40 600.85,61.31 600.98,59.86 601.10,62.38 601.23,61.48 601.35,61.56 601.48,60.60 601.60,64.56 601.73,62.70 601.85,61.53 601.98,61.97 602.10,63.13 602.23,60.39 602.35,62.96 602.48,62.98 602.60,62.95 602.73,63.75 602.85,64.91 602.98,63.29 603.10,65.82 603.23,65.13 603.35,64.24 603.48,65.38 603.60,63.72 603.73,63.64 603.85,64.11 603.98,64.93 604.10,65.11 604.23,65.06 604.35,65.65 604.48,63.96 604.60,67.98 604.73,64.69 604.85,65.37 604.98,65.64 605.10,65.11 605.23,64.99 605.35,65.34 605.48,66.18 605.60,66.71 605.73,66.73 605.85,65.52 605.98,65.72 606.10,65.64 606.23,66.77 606.35,64.81 606.48,67.45 606.60,66.09 606.73,65.88 606.85,66.79 606.98,67.37 607.10,66.83 607.23,67.41 607.35,66.69 607.48,67.58 607.60,67.60 607.73,66.54 607.85,67.78 607.98,66.77 608.10,66.72 608.23,65.92 608.35,66.43 608.48,67.30 608.60,65.63 608.73,67.21 608.85,66.97 608.98,66.92 609.10,64.94 609.23,66.63 609.35,67.24 609.48,66.11 609.60,66.80 609.73,64.83 609.85,67.27 609.98,66.21 610.10,67.44 610.23,65.28 610.35,67.31 610.48,66.57 610.60,67.41 610.73,66.02 610.85,66.27 610.98,68.56 611.10,66.11 611.23,66.21 611.35,66.56 611.48,65.96 611.60,67.74 611.73,68.17 611.85,66.23 611.98,65.41 612.10,67.73 612.23,67.68 612.35,67.46 612.48,67.73 612.60,66.11 612.73,66.67 612.85,65.70 612.98,65.67 613.10,67.59 613.23,66.27 613.35,68.64 613.48,66.87 613.60,66.30 613.73,67.45 613.85,68.26 613.98,67.21 614.10,65.85 614.23,67.12 614.35,67.92 614.48,66.43 614.60,66.20 614.73,67.64 614.85,66.94 614.98,65.94 615.10,66.52 615.23,66.22 615.35,67.07 615.48,66.92 615.60,67.75 615.73,67.40 615.85,65.58 615.98,67.16 616.10,67.55 616.23,67.20 616.35,67.66 616.48,66.39 616.60,66.07 616.73,67.58 616.85,64.98 616.98,65.10 617.10,67.65 617.23,66.25 617.35,66.59 617.48,65.71 617.60,65.77 617.73,65.90 617.85,66.54 617.98,67.13 618.10,64.99 618.23,67.43 618.35,65.88 618.48,65.97 618.60,67.47 618.73,66.77 618.85,66.13 618.98,68.30 619.10,66.13 619.23,67.02 619.35,66.98 619.48,67.95 619.60,66.45 619.73,67.62 619.85,66.22 619.98,67.71 620.10,66.20 620.23,66.52 620.35,68.33 620.48,67.06 620.60,64.67 620.73,68.60 620.85,67.10 620.98,66.15 621.10,67.39 621.23,65.86 621.35,67.70 621.48,67.76 621.60,66.34 621.73,66.29 621.85,66.93 621.98,66.80 622.10,64.19 622.23,67.24 622.35,65.15 622.48,66.43 622.60,66.45 622.73,66.55 622.85,67.01 622.98,65.77 623.10,67.22 623.23,66.60 623.35,67.82 623.48,65.63 623.60,65.77 623.73,67.00 623.85,65.93 623.98,66.74 624.10,66.87 624.23,67.49 624.35,67.90 624.48,66.41 624.60,66.31 624.73,67.43 624.85,66.85 624.98,67.48 625.10,66.58 625.23,67.51 625.35,67.21 625.48,67.09 625.60,66.90 625.73,65.70 625.85,66.64 625.98,66.61 626.10,67.19 626.23,65.97 626.35,67.74 626.48,66.24 626.60,67.09 626.73,66.20 626.85,66.04 626.98,67.83 627.10,65.93 627.23,65.12 627.35,65.54 627.48,65.82 627.60,67.76 627.73,66.17 627.85,66.72 627.98,63.39 628.10,66.17 628.23,66.39 628.35,67.26 628.48,65.22 628.60,66.22 628.73,65.94 628.85,64.84 628.98,65.60 629.10,65.37 629.23,63.68 629.35,65.98 629.48,65.90 629.60,65.08 629.73,64.32 629.85,66.54 629.98,65.54 630.10,66.10 630.23,66.39 630.35,64.82 630.48,65.86 630.60,64.99 630.73,65.11 630.85,65.08 630.98,65.13 631.10,66.01 631.23,65.50 631.35,64.98 631.48,64.87 631.60,65.37 631.73,64.38 631.85,64.70 631.98,65.07 632.10,64.68 632.23,65.05 632.35,64.68 632.48,66.79 632.60,70.31 632.73,65.60 632.85,65.22 632.98,67.05 633.10,65.59 633.23,65.30 633.35,65.65 633.48,65.69 633.60,66.61 633.73,65.51 633.85,67.24 633.98,64.90 634.10,66.20 634.23,64.89 634.35,67.19 634.48,65.51 634.60,65.77 634.73,66.60 634.85,66.67 634.98,65.06 635.10,65.71 635.23,64.91 635.35,66.18 635.48,66.03 635.60,65.87 635.73,65.64 635.85,65.92 635.98,65.67 636.10,66.72 636.23,67.55 636.35,64.82 636.48,64.48 636.60,66.10 636.73,66.86 636.85,65.73 636.98,66.41 637.10,65.72 637.23,67.14 637.35,66.69 637.48,66.50 637.60,66.95 637.73,70.11 637.85,65.46 637.98,67.20 638.10,66.98 638.23,66.64 638.35,67.58 638.48,67.78 638.60,65.95 638.73,66.22 638.85,68.09 638.98,68.01 639.10,66.30 639.23,65.96 639.35,66.40 639.48,64.52 639.60,65.67 639.73,68.46 639.85,65.94 639.98,66.01 640.10,67.72 640.23,66.45 640.35,66.95 640.48,67.52 640.60,67.67 640.73,66.90 640.85,67.07 640.98,66.38 641.10,68.45 641.23,67.58 641.35,68.11 641.48,67.07 641.60,67.65 641.73,67.47 641.85,68.55 641.98,67.35 642.10,66.67 642.23,67.03 642.35,66.08 642.48,67.31 642.60,67.24 642.73,69.29 642.85,66.35 642.98,65.46 643.10,66.60 643.23,67.23 643.35,66.14 643.48,66.45 643.60,66.86 643.73,67.43 643.85,67.03 643.98,66.45 644.10,67.80 644.23,66.74 644.35,66.77 644.48,66.07 644.60,66.55 644.73,67.70 644.85,65.89 644.98,67.13 645.10,67.77 645.23,66.89 645.35,67.39 645.48,66.31 645.60,68.25 645.73,68.09 645.85,67.40 645.98,65.81 646.10,66.38 646.23,68.00 646.35,68.59 646.48,67.46 646.60,68.22 646.73,66.74 646.85,67.08 646.98,67.23 647.10,67.57 647.23,66.02 647.35,67.99 647.48,68.30 647.60,66.33 647.73,66.16 647.85,67.53 647.98,66.73 648.10,65.36 648.23,67.91 648.35,67.38 648.48,68.56 648.60,68.96 648.73,67.38 648.85,66.67 648.98,67.35 649.10,66.44 649.23,66.67 649.35,67.59 649.48,66.84 649.60,66.92 649.73,68.62 649.85,67.98 649.98,67.93 650.10,67.71 650.23,67.68 650.35,68.46 650.48,67.28 650.60,68.78 650.73,66.54 650.85,67.10 650.98,66.20 651.10,67.03 651.23,67.73 651.35,68.47 651.48,66.78 651.60,67.32 651.73,67.03 651.85,66.73 651.98,66.37 652.10,67.37 652.23,65.94 652.35,67.42 652.48,67.35 652.60,66.81 652.73,66.53 652.85,66.23 652.98,68.84 653.10,66.27 653.23,68.59 653.35,67.82 653.48,67.06 653.60,66.42 653.73,68.18 653.85,68.74 653.98,66.61 654.10,67.12 654.23,68.20 654.35,67.63 654.48,68.96 654.60,66.91 654.73,67.80 654.85,66.37 654.98,69.05 655.10,66.79 655.23,65.61 655.35,67.27 655.48,67.27 655.60,68.91 655.73,67.11 655.85,67.37 655.98,67.86 656.10,68.65 656.23,67.34 656.35,68.24 656.48,67.81 656.60,67.16 656.73,67.46 656.85,67.42 656.98,66.39 657.10,68.37 657.23,66.29 657.35,68.34 657.48,68.17 657.60,67.33 657.73,66.80 657.85,67.23 657.98,67.79 658.10,68.01 658.23,67.65 658.35,68.21 658.48,66.97 658.60,67.61 658.73,66.17 658.85,68.04 658.98,67.55 659.10,67.10 659.23,68.36 659.35,67.98 659.48,65.18 659.60,67.47 659.73,66.27 659.85,68.29 659.98,69.43 660.10,67.03 660.23,67.50 660.35,67.24 660.48,67.73 660.60,67.96 660.73,68.48 660.85,66.66 660.98,68.71 661.10,70.09 661.23,67.68 661.35,68.39 661.48,68.03 661.60,66.71 661.73,66.90 661.85,67.97 661.98,67.43 662.10,68.39 662.23,66.44 662.35,66.24 662.48,68.76 662.60,67.92 662.73,67.85 662.85,68.69 662.98,67.87 663.10,68.17 663.23,67.94 663.35,68.92 663.48,65.97 663.60,68.51 663.73,67.28 663.85,67.27 663.98,66.72 664.10,66.00 664.23,67.19 664.35,66.95 664.48,67.90 664.60,64.75 664.73,68.65 664.85,67.72 664.98,67.31 665.10,65.87 665.23,66.88 665.35,66.19 665.48,67.08 665.60,67.52 665.73,67.38 665.85,66.39 665.98,67.31 666.10,66.81 666.23,67.65 666.35,69.02 666.48,68.03 666.60,67.28 666.73,66.23 666.85,66.40 666.98,66.18 667.10,68.12 667.23,66.92 667.35,67.59 667.48,67.04 667.60,67.61 667.73,68.66 667.85,67.00 667.98,67.27 668.10,66.90 668.23,68.25 668.35,66.73 668.48,66.65 668.60,66.44 668.73,66.43 668.85,67.93 668.98,69.61 669.10,66.76 669.23,68.32 669.35,67.77 669.48,66.68" fill="none" stroke="#000" stroke-width="1.9" stroke-linejoin="round"/>
<polyline points="393.60,115.45 393.73,114.41 393.85,113.93 393.98,114.56 394.10,115.09 394.23,114.88 394.35,115.22 394.48,113.92 394.60,114.41 394.73,113.38 394.85,114.44 394.98,111.78 395.10,114.44 395.23,113.46 395.35,115.89 395.48,116.04 395.60,116.15 395.73,115.38 395.85,114.23 395.98,115.52 396.10,114.48 396.23,115.21 396.35,113.86 396.48,114.14 396.60,118.36 396.73,116.24 396.85,114.65 396.98,116.67 397.10,117.12 397.23,113.53 397.35,114.65 397.48,113.83 397.60,114.55 397.73,114.20 397.85,114.62 397.98,115.54 398.10,115.51 398.23,114.91 398.35,114.68 398.48,114.79 398.60,114.79 398.73,115.19 398.85,114.69 398.98,115.13 399.10,113.52 399.23,115.39 399.35,116.24 399.48,114.85 399.60,113.43 399.73,115.89 399.85,114.39 399.98,112.03 400.10,114.49 400.23,115.23 400.35,115.03 400.48,115.80 400.60,115.24 400.73,114.80 400.85,112.93 400.98,110.50 401.10,114.85 401.23,115.30 401.35,113.78 401.48,114.15 401.60,115.11 401.73,112.99 401.85,112.96 401.98,114.49 402.10,114.92 402.23,114.27 402.35,112.65 402.48,114.72 402.60,113.51 402.73,115.28 402.85,114.61 402.98,114.93 403.10,115.27 403.23,114.23 403.35,115.43 403.48,115.81 403.60,115.05 403.73,115.88 403.85,114.14 403.98,115.51 404.10,114.94 404.23,113.82 404.35,114.63 404.48,114.23 404.60,114.21 404.73,114.77 404.85,115.64 404.98,114.41 405.10,114.81 405.23,113.39 405.35,114.79 405.48,115.72 405.60,115.42 405.73,115.12 405.85,114.23 405.98,113.83 406.10,114.61 406.23,113.50 406.35,113.59 406.48,115.53 406.60,113.87 406.73,116.29 406.85,113.42 406.98,115.07 407.10,113.64 407.23,114.84 407.35,113.76 407.48,114.72 407.60,114.55 407.73,114.28 407.85,115.14 407.98,116.03 408.10,114.15 408.23,115.47 408.35,114.75 408.48,114.65 408.60,116.63 408.73,112.74 408.85,114.07 408.98,113.06 409.10,114.39 409.23,114.47 409.35,118.07 409.48,114.98 409.60,116.27 409.73,115.82 409.85,114.27 409.98,115.09 410.10,116.15 410.23,114.81 410.35,114.84 410.48,115.10 410.60,113.31 410.73,113.92 410.85,114.95 410.98,115.13 411.10,113.82 411.23,114.35 411.35,114.53 411.48,114.50 411.60,115.25 411.73,114.72 411.85,114.77 411.98,113.36 412.10,113.68 412.23,116.20 412.35,113.19 412.48,114.85 412.60,114.02 412.73,113.88 412.85,115.18 412.98,113.99 413.10,113.83 413.23,117.16 413.35,114.64 413.48,117.04 413.60,112.69 413.73,114.56 413.85,114.35 413.98,115.42 414.10,114.23 414.23,112.35 414.35,115.74 414.48,113.57 414.60,114.49 414.73,113.31 414.85,113.55 414.98,114.08 415.10,115.29 415.23,115.27 415.35,113.98 415.48,114.95 415.60,114.17 415.73,114.59 415.85,114.62 415.98,115.03 416.10,113.92 416.23,114.35 416.35,114.65 416.48,114.53 416.60,113.73 416.73,115.98 416.85,114.02 416.98,115.10 417.10,114.60 417.23,115.50 417.35,112.45 417.48,116.23 417.60,114.19 417.73,113.27 417.85,114.48 417.98,116.37 418.10,114.80 418.23,113.23 418.35,113.91 418.48,115.51 418.60,113.05 418.73,114.13 418.85,114.02 418.98,116.21 419.10,114.00 419.23,115.42 419.35,113.63 419.48,113.50 419.60,115.98 419.73,114.75 419.85,112.63 419.98,114.73 420.10,114.72 420.23,113.58 420.35,114.31 420.48,114.54 420.60,113.64 420.73,113.53 420.85,113.43 420.98,113.77 421.10,112.80 421.23,113.93 421.35,112.61 421.48,113.99 421.60,113.82 421.73,112.94 421.85,114.61 421.98,115.55 422.10,114.97 422.23,112.54 422.35,114.86 422.48,113.89 422.60,113.61 422.73,113.09 422.85,113.58 422.98,114.79 423.10,114.00 423.23,113.10 423.35,112.83 423.48,113.01 423.60,113.87 423.73,114.96 423.85,112.30 423.98,113.19 424.10,112.80 424.23,112.41 424.35,113.38 424.48,113.46 424.60,111.64 424.73,111.92 424.85,113.85 424.98,112.99 425.10,113.11 425.23,112.12 425.35,112.15 425.48,112.82 425.60,111.88 425.73,111.25 425.85,112.16 425.98,112.87 426.10,111.05 426.23,112.82 426.35,112.40 426.48,110.90 426.60,111.57 426.73,111.41 426.85,111.90 426.98,111.81 427.10,109.93 427.23,106.96 427.35,111.75 427.48,110.80 427.60,110.93 427.73,110.71 427.85,111.63 427.98,109.03 428.10,110.92 428.23,109.05 428.35,107.75 428.48,110.62 428.60,108.01 428.73,109.41 428.85,107.31 428.98,108.38 429.10,108.46 429.23,107.26 429.35,107.10 429.48,108.29 429.60,108.20 429.73,106.67 429.85,105.59 429.98,108.65 430.10,107.25 430.23,106.26 430.35,104.67 430.48,104.70 430.60,105.04 430.73,103.56 430.85,105.41 430.98,103.64 431.10,103.38 431.23,101.61 431.35,101.17 431.48,100.71 431.60,101.05 431.73,104.26 431.85,99.24 431.98,99.07 432.10,98.25 432.23,98.59 432.35,96.29 432.48,94.72 432.60,94.72 432.73,96.00 432.85,92.36 432.98,91.91 433.10,90.52 433.23,90.14 433.35,88.92 433.48,86.86 433.60,86.25 433.73,86.13 433.85,85.09 433.98,83.76 434.10,82.52 434.23,80.28 434.35,79.07 434.48,79.06 434.60,76.07 434.73,75.96 434.85,73.32 434.98,73.64 435.10,72.43 435.23,71.15 435.35,71.99 435.48,70.19 435.60,70.00 435.73,69.71 435.85,69.04 435.98,70.84 436.10,69.18 436.23,69.97 436.35,68.97 436.48,70.18 436.60,70.91 436.73,71.66 436.85,72.26 436.98,73.85 437.10,76.14 437.23,75.76 437.35,76.93 437.48,77.94 437.60,81.81 437.73,82.29 437.85,82.68 437.98,84.15 438.10,84.23 438.23,86.05 438.35,87.69 438.48,88.90 438.60,89.31 438.73,90.62 438.85,92.97 438.98,93.97 439.10,92.96 439.23,95.71 439.35,98.09 439.48,97.41 439.60,99.16 439.73,98.58 439.85,101.47 439.98,100.58 440.10,101.25 440.23,102.81 440.35,105.89 440.48,103.91 440.60,103.96 440.73,106.06 440.85,106.40 440.98,108.16 441.10,106.06 441.23,106.21 441.35,107.75 441.48,108.75 441.60,109.08 441.73,110.06 441.85,108.09 441.98,108.97 442.10,109.85 442.23,110.95 442.35,110.86 442.48,110.28 442.60,109.95 442.73,111.82 442.85,112.05 442.98,113.77 443.10,111.37 443.23,113.10 443.35,110.73 443.48,111.45 443.60,111.44 443.73,111.74 443.85,111.48 443.98,111.88 444.10,112.40 444.23,112.14 444.35,116.42 444.48,112.63 444.60,112.77 444.73,114.15 444.85,113.19 444.98,113.12 445.10,113.03 445.23,113.16 445.35,113.67 445.48,112.51 445.60,114.28 445.73,114.71 445.85,114.39 445.98,112.99 446.10,112.06 446.23,113.12 446.35,113.69 446.48,114.32 446.60,113.47 446.73,113.40 446.85,115.05 446.98,113.15 447.10,114.72 447.23,114.61 447.35,113.55 447.48,114.12 447.60,113.41 447.73,113.10 447.85,112.33 447.98,112.61 448.10,114.38 448.23,113.70 448.35,114.31 448.48,111.10 448.60,113.83 448.73,113.90 448.85,110.95 448.98,112.72 449.10,114.59 449.23,114.35 449.35,113.42 449.48,114.18 449.60,114.87 449.73,115.92 449.85,113.54 449.98,114.88 450.10,116.22 450.23,114.43 450.35,115.68 450.48,112.13 450.60,115.70 450.73,114.43 450.85,112.80 450.98,115.75 451.10,115.41 451.23,115.56 451.35,115.57 451.48,114.50 451.60,113.88 451.73,114.14 451.85,114.53 451.98,114.93 452.10,114.16 452.23,114.64 452.35,115.38 452.48,114.91 452.60,116.66 452.73,116.55 452.85,113.64 452.98,114.16 453.10,113.52 453.23,113.66 453.35,115.96 453.48,113.83 453.60,113.79 453.73,114.48 453.85,118.59 453.98,114.43 454.10,114.43 454.23,115.57 454.35,115.18 454.48,115.18 454.60,115.62 454.73,113.90 454.85,114.99 454.98,114.25 455.10,115.72 455.23,115.54 455.35,113.91 455.48,116.02 455.60,113.81 455.73,115.88 455.85,115.04 455.98,114.09 456.10,113.88 456.23,114.61 456.35,114.86 456.48,114.26 456.60,115.39 456.73,113.66 456.85,114.90 456.98,114.91 457.10,113.26 457.23,115.20 457.35,113.81 457.48,112.72 457.60,114.40 457.73,114.74 457.85,115.75 457.98,114.52 458.10,116.26 458.23,116.24 458.35,115.94 458.48,116.15 458.60,115.29 458.73,114.49 458.85,118.84 458.98,115.85 459.10,115.21 459.23,114.78 459.35,113.61 459.48,115.61 459.60,115.32 459.73,113.86 459.85,115.11 459.98,115.66 460.10,118.88 460.23,115.72 460.35,115.70 460.48,113.73 460.60,114.77 460.73,115.47 460.85,115.86 460.98,116.30 461.10,113.35 461.23,115.00 461.35,115.69 461.48,116.15 461.60,116.56 461.73,114.24 461.85,114.74 461.98,114.14 462.10,115.80 462.23,113.90 462.35,116.13 462.48,115.91 462.60,115.52 462.73,113.22 462.85,114.49 462.98,115.76 463.10,113.83 463.23,114.88 463.35,115.00 463.48,115.89 463.60,115.35 463.73,115.35 463.85,114.71 463.98,115.11 464.10,114.02 464.23,115.76 464.35,114.95 464.48,116.03 464.60,113.60 464.73,116.18 464.85,114.97 464.98,116.12 465.10,115.19 465.23,115.88 465.35,115.16 465.48,114.63 465.60,115.19 465.73,114.97 465.85,115.31 465.98,113.68 466.10,111.98 466.23,114.90 466.35,114.43 466.48,114.95 466.60,113.76 466.73,116.37 466.85,115.52 466.98,116.80 467.10,114.35 467.23,114.09 467.35,115.38 467.48,113.64 467.60,115.33 467.73,114.50 467.85,114.83 467.98,115.35 468.10,115.17 468.23,116.78 468.35,115.69 468.48,113.97 468.60,115.99 468.73,113.93 468.85,115.20 468.98,114.01 469.10,114.38 469.23,116.28 469.35,114.62 469.48,114.54 469.60,114.61 469.73,114.83 469.85,116.39 469.98,114.06 470.10,114.42 470.23,115.61 470.35,111.52 470.48,114.77 470.60,116.10 470.73,115.09 470.85,114.66 470.98,114.45 471.10,114.26 471.23,114.55 471.35,115.19 471.48,116.17 471.60,115.92 471.73,114.56 471.85,114.40 471.98,115.67 472.10,113.43 472.23,113.30 472.35,114.75 472.48,114.04 472.60,114.14 472.73,115.33 472.85,113.54 472.98,114.19 473.10,114.42 473.23,115.06 473.35,113.76 473.48,115.94 473.60,114.69 473.73,114.73 473.85,114.63 473.98,114.34 474.10,114.06 474.23,115.94 474.35,115.10 474.48,115.61 474.60,115.78 474.73,114.25 474.85,115.43 474.98,114.88 475.10,114.06 475.23,115.51 475.35,113.50 475.48,115.39 475.60,112.21 475.73,115.14 475.85,115.99 475.98,115.25 476.10,114.20 476.23,114.69 476.35,114.37 476.48,113.64 476.60,113.67 476.73,114.97 476.85,115.09 476.98,113.02 477.10,114.50 477.23,114.99 477.35,114.61 477.48,113.59 477.60,115.37 477.73,113.34 477.85,114.96 477.98,115.77 478.10,112.51 478.23,114.50 478.35,118.45 478.48,114.39 478.60,113.46 478.73,113.81 478.85,112.79 478.98,114.09 479.10,114.38 479.23,113.25 479.35,112.94 479.48,113.26 479.60,113.58 479.73,113.55 479.85,113.30 479.98,113.34 480.10,112.00 480.23,110.62 480.35,113.44 480.48,114.00 480.60,111.32 480.73,111.81 480.85,112.47 480.98,112.84 481.10,112.36 481.23,112.68 481.35,111.25 481.48,111.39 481.60,111.10 481.73,110.05 481.85,109.46 481.98,110.33 482.10,110.28 482.23,108.70 482.35,109.56 482.48,107.32 482.60,108.18 482.73,105.09 482.85,106.06 482.98,107.15 483.10,105.64 483.23,105.73 483.35,103.69 483.48,106.03 483.60,104.75 483.73,103.77 483.85,103.76 483.98,103.30 484.10,103.92 484.23,102.57 484.35,100.83 484.48,101.70 484.60,102.92 484.73,102.20 484.85,101.30 484.98,102.24 485.10,101.89 485.23,102.47 485.35,100.71 485.48,101.54 485.60,103.18 485.73,102.68 485.85,103.49 485.98,105.22 486.10,103.55 486.23,104.37 486.35,104.01 486.48,104.28 486.60,105.10 486.73,104.21 486.85,103.95 486.98,107.30 487.10,106.30 487.23,107.65 487.35,107.04 487.48,107.31 487.60,108.00 487.73,108.27 487.85,106.78 487.98,109.10 488.10,107.36 488.23,109.06 488.35,110.79 488.48,108.77 488.60,110.30 488.73,108.66 488.85,109.62 488.98,109.24 489.10,108.87 489.23,108.66 489.35,108.70 489.48,109.89 489.60,108.32 489.73,109.04 489.85,110.43 489.98,109.41 490.10,109.25 490.23,109.14 490.35,110.33 490.48,109.96 490.60,110.49 490.73,110.28 490.85,112.16 490.98,110.23 491.10,108.98 491.23,110.89 491.35,110.88 491.48,111.10 491.60,109.64 491.73,112.14 491.85,111.20 491.98,111.28 492.10,110.02 492.23,111.92 492.35,111.54 492.48,112.87 492.60,111.41 492.73,110.78 492.85,112.07 492.98,111.25 493.10,112.50 493.23,111.28 493.35,112.20 493.48,112.20 493.60,112.46 493.73,112.12 493.85,111.95 493.98,112.69 494.10,112.31 494.23,113.04 494.35,112.74 494.48,111.09 494.60,113.08 494.73,114.43 494.85,113.55 494.98,113.88 495.10,113.02 495.23,113.09 495.35,112.40 495.48,114.34 495.60,114.62 495.73,114.26 495.85,114.19 495.98,114.23 496.10,113.92 496.23,114.24 496.35,114.06 496.48,114.30 496.60,113.33 496.73,113.66 496.85,114.75 496.98,114.01 497.10,112.25 497.23,114.50 497.35,112.45 497.48,116.14 497.60,117.86 497.73,115.14 497.85,114.02 497.98,113.66 498.10,114.49 498.23,114.72 498.35,114.07 498.48,114.91 498.60,115.40 498.73,115.35 498.85,113.96 498.98,113.01 499.10,114.91 499.23,114.37 499.35,115.35 499.48,116.41 499.60,116.43 499.73,115.28 499.85,116.01 499.98,116.49 500.10,115.13 500.23,115.34 500.35,115.86 500.48,115.11 500.60,114.72 500.73,114.52 500.85,115.19 500.98,114.66 501.10,115.90 501.23,114.94 501.35,116.50 501.48,116.29 501.60,114.19 501.73,116.20 501.85,114.93 501.98,116.47 502.10,115.74 502.23,115.27 502.35,115.89 502.48,114.85 502.60,115.62 502.73,115.67 502.85,115.22 502.98,115.69 503.10,114.51 503.23,115.85 503.35,114.34 503.48,115.92 503.60,115.80 503.73,116.01 503.85,114.93 503.98,118.01 504.10,115.22 504.23,112.69 504.35,114.78 504.48,116.66 504.60,115.03 504.73,116.29 504.85,114.64 504.98,115.72 505.10,115.14 505.23,116.26 505.35,115.22 505.48,114.73 505.60,115.86 505.73,114.46 505.85,114.66 505.98,116.14 506.10,113.89 506.23,116.14 506.35,116.91 506.48,114.72 506.60,115.71 506.73,116.05 506.85,115.01 506.98,115.37 507.10,116.20 507.23,116.16 507.35,118.49 507.48,114.87 507.60,114.72 507.73,115.03 507.85,116.12 507.98,117.28 508.10,115.80 508.23,116.73 508.35,115.29 508.48,115.23 508.60,115.23 508.73,117.18 508.85,113.81 508.98,115.81 509.10,115.94 509.23,115.62 509.35,117.55 509.48,116.57 509.60,116.23 509.73,114.81 509.85,116.00 509.98,115.26 510.10,115.62 510.23,115.76 510.35,115.18 510.48,116.13 510.60,116.97 510.73,116.47 510.85,115.78 510.98,113.96 511.10,116.52 511.23,116.51 511.35,115.44 511.48,115.20 511.60,116.16 511.73,114.92 511.85,116.28 511.98,112.87 512.10,114.83 512.23,115.63 512.35,114.38 512.48,115.62 512.60,116.07 512.73,114.51 512.85,116.41 512.98,115.15 513.10,116.09 513.23,115.81 513.35,115.24 513.48,115.18 513.60,114.19 513.73,115.04 513.85,114.98 513.98,117.02 514.10,116.49 514.23,114.48 514.35,116.31 514.48,115.82 514.60,115.31 514.73,116.03 514.85,116.31 514.98,115.16 515.10,115.41 515.23,116.00 515.35,114.81 515.48,115.80 515.60,115.57 515.73,115.07 515.85,114.93 515.98,115.90 516.10,116.38 516.23,115.92 516.35,114.92 516.48,116.28 516.60,115.79 516.73,116.15 516.85,116.63 516.98,114.89 517.10,115.53 517.23,115.15 517.35,114.91 517.48,117.34 517.60,116.44 517.73,114.16 517.85,114.65 517.98,115.18 518.10,116.62 518.23,115.72 518.35,115.50 518.48,115.77 518.60,115.98 518.73,115.68 518.85,115.47 518.98,115.54 519.10,116.08 519.23,114.70 519.35,115.65 519.48,115.55 519.60,115.24 519.73,116.27 519.85,116.18 519.98,115.35 520.10,114.94 520.23,116.11 520.35,115.26 520.48,115.70 520.60,115.98 520.73,114.31 520.85,116.03 520.98,115.65 521.10,115.44 521.23,115.56 521.35,116.33 521.48,116.27 521.60,117.14 521.73,115.80 521.85,115.25 521.98,115.23 522.10,116.20 522.23,117.00 522.35,115.94 522.48,118.52 522.60,117.22 522.73,115.87 522.85,115.68 522.98,115.03 523.10,113.52 523.23,115.20 523.35,116.54 523.48,115.83 523.60,113.80 523.73,115.66 523.85,114.10 523.98,117.32 524.10,115.81 524.23,114.64 524.35,116.32 524.48,114.99 524.60,116.12 524.73,115.67 524.85,114.66 524.98,116.21 525.10,114.52 525.23,116.78 525.35,115.70 525.48,114.78 525.60,114.12 525.73,117.01 525.85,116.87 525.98,114.59 526.10,117.03 526.23,115.79 526.35,115.46 526.48,115.57 526.60,115.42 526.73,116.85 526.85,115.77 526.98,114.10 527.10,117.40 527.23,116.39 527.35,114.73 527.48,115.34 527.60,114.88 527.73,115.68 527.85,115.97 527.98,115.84 528.10,115.14 528.23,114.97 528.35,116.35 528.48,115.56 528.60,117.53 528.73,114.96 528.85,116.30 528.98,115.68 529.10,115.00 529.23,116.78 529.35,115.74 529.48,114.89 529.60,115.37 529.73,116.49 529.85,114.61 529.98,116.79 530.10,116.21 530.23,115.40 530.35,116.77 530.48,117.10 530.60,116.14 530.73,115.78 530.85,117.19 530.98,119.43 531.10,114.85 531.23,115.46 531.35,115.45 531.48,115.28 531.60,114.37 531.73,115.37 531.85,115.70 531.98,115.71 532.10,116.81 532.23,115.15 532.35,115.58 532.48,115.86 532.60,115.26 532.73,115.53 532.85,116.27 532.98,115.62 533.10,116.75 533.23,114.99 533.35,115.79 533.48,114.42 533.60,115.52 533.73,115.03 533.85,116.77 533.98,116.25 534.10,116.05 534.23,117.18 534.35,116.84 534.48,116.22 534.60,115.03 534.73,114.39 534.85,115.59 534.98,115.31 535.10,118.86 535.23,115.37 535.35,114.21 535.48,116.87 535.60,114.64 535.73,115.04 535.85,116.09 535.98,114.23 536.10,116.39 536.23,116.40 536.35,115.34 536.48,114.69 536.60,115.20 536.73,114.03 536.85,116.78 536.98,115.65 537.10,114.98 537.23,114.83 537.35,116.09 537.48,116.88 537.60,114.52 537.73,115.11 537.85,112.12 537.98,116.17 538.10,115.73 538.23,117.52 538.35,115.49 538.48,115.22 538.60,114.99 538.73,116.32 538.85,114.20 538.98,116.23 539.10,115.72 539.23,115.16 539.35,114.82 539.48,118.26 539.60,117.17 539.73,115.21 539.85,116.04 539.98,117.07 540.10,115.05 540.23,115.37 540.35,114.54 540.48,115.45 540.60,115.51 540.73,115.22 540.85,114.95 540.98,114.22 541.10,114.43 541.23,114.74 541.35,116.12 541.48,115.14 541.60,114.84 541.73,116.13 541.85,116.05 541.98,114.92 542.10,115.03 542.23,116.13 542.35,115.88 542.48,114.85 542.60,115.77 542.73,115.54 542.85,116.52 542.98,114.82 543.10,116.32 543.23,115.93 543.35,111.03 543.48,116.46 543.60,116.34 543.73,114.42 543.85,117.25 543.98,114.57 544.10,114.76 544.23,115.27 544.35,116.64 544.48,116.05 544.60,115.47 544.73,116.72 544.85,115.89 544.98,116.74 545.10,117.97 545.23,115.71 545.35,113.32 545.48,115.15 545.60,115.81 545.73,115.62 545.85,115.62 545.98,114.48 546.10,114.54 546.23,115.30 546.35,115.36 546.48,113.28 546.60,116.37 546.73,115.55 546.85,115.52 546.98,115.78 547.10,114.63 547.23,115.48 547.35,116.42 547.48,116.45 547.60,115.92 547.73,115.27 547.85,114.80 547.98,116.66 548.10,115.97 548.23,115.14 548.35,113.62 548.48,114.75 548.60,113.82 548.73,116.59 548.85,112.13 548.98,114.85 549.10,115.26 549.23,117.77 549.35,116.56 549.48,114.32 549.60,115.38 549.73,114.41 549.85,113.98 549.98,115.64 550.10,117.61 550.23,117.40 550.35,115.52 550.48,115.15 550.60,115.66 550.73,116.39 550.85,114.19 550.98,113.82 551.10,117.13 551.23,115.72 551.35,116.89 551.48,115.68 551.60,116.77 551.73,114.92 551.85,115.90 551.98,116.83 552.10,116.36 552.23,115.05 552.35,116.24 552.48,114.86 552.60,114.18 552.73,115.91 552.85,116.69 552.98,115.62 553.10,114.32 553.23,116.21 553.35,116.04 553.48,115.02 553.60,113.22 553.73,116.33 553.85,116.21 553.98,115.86 554.10,113.87 554.23,114.09 554.35,116.31 554.48,116.13 554.60,115.85 554.73,115.18 554.85,115.75 554.98,114.91 555.10,115.12 555.23,114.62 555.35,115.62 555.48,115.01 555.60,116.23 555.73,116.02 555.85,114.65 555.98,117.02 556.10,114.36 556.23,115.77 556.35,116.33 556.48,116.50 556.60,113.38 556.73,116.25 556.85,116.44 556.98,116.63 557.10,113.34 557.23,114.72 557.35,115.24 557.48,114.92 557.60,116.52 557.73,114.70 557.85,116.41 557.98,115.80 558.10,115.40 558.23,114.40 558.35,114.86 558.48,115.36 558.60,116.16 558.73,115.10 558.85,116.08 558.98,113.84 559.10,112.50 559.23,114.93 559.35,115.64 559.48,114.90 559.60,114.30 559.73,115.58 559.85,116.94 559.98,115.09 560.10,114.52 560.23,114.40 560.35,116.92 560.48,115.10 560.60,115.68 560.73,116.21 560.85,116.07 560.98,114.26 561.10,115.94 561.23,115.82 561.35,115.49 561.48,115.94 561.60,114.51 561.73,114.93 561.85,114.51 561.98,115.65 562.10,117.55 562.23,115.28 562.35,113.93 562.48,114.78 562.60,114.54 562.73,114.75 562.85,114.95 562.98,114.64 563.10,114.59 563.23,112.90 563.35,115.73 563.48,114.15 563.60,114.47 563.73,113.91 563.85,115.53 563.98,113.79 564.10,115.03 564.23,115.61 564.35,116.00 564.48,115.56 564.60,115.01 564.73,113.34 564.85,115.55 564.98,115.42 565.10,115.07 565.23,115.01 565.35,114.32 565.48,113.75 565.60,115.14 565.73,115.28 565.85,113.16 565.98,114.88 566.10,114.23 566.23,114.77 566.35,114.17 566.48,114.88 566.60,114.76 566.73,114.59 566.85,112.51 566.98,114.44 567.10,113.70 567.23,112.59 567.35,114.19 567.48,112.36 567.60,114.25 567.73,114.92 567.85,112.90 567.98,114.12 568.10,113.65 568.23,113.77 568.35,111.92 568.48,113.62 568.60,113.14 568.73,113.63 568.85,112.92 568.98,113.83 569.10,113.04 569.23,113.35 569.35,113.91 569.48,108.60 569.60,113.46 569.73,112.72 569.85,112.93 569.98,111.93 570.10,113.04 570.23,113.39 570.35,112.17 570.48,112.89 570.60,112.51 570.73,111.10 570.85,112.34 570.98,113.15 571.10,111.50 571.23,114.72 571.35,112.02 571.48,111.22 571.60,113.43 571.73,111.67 571.85,111.66 571.98,111.07 572.10,111.82 572.23,111.06 572.35,108.66 572.48,107.71 572.60,110.76 572.73,112.62 572.85,110.40 572.98,111.35 573.10,110.79 573.23,110.17 573.35,112.85 573.48,109.51 573.60,112.65 573.73,110.12 573.85,111.45 573.98,113.38 574.10,109.50 574.23,110.18 574.35,112.57 574.48,111.58 574.60,110.96 574.73,111.44 574.85,110.64 574.98,111.62 575.10,112.86 575.23,112.21 575.35,111.73 575.48,112.71 575.60,113.44 575.73,111.20 575.85,112.03 575.98,111.31 576.10,111.28 576.23,111.54 576.35,111.38 576.48,110.46 576.60,110.28 576.73,111.44 576.85,112.25 576.98,113.26 577.10,111.77 577.23,112.14 577.35,112.92 577.48,113.05 577.60,112.35 577.73,112.45 577.85,114.20 577.98,112.31 578.10,112.23 578.23,111.28 578.35,113.15 578.48,112.58 578.60,114.55 578.73,112.62 578.85,113.69 578.98,113.84 579.10,113.75 579.23,111.97 579.35,114.55 579.48,113.23 579.60,113.17 579.73,113.04 579.85,113.01 579.98,113.10 580.10,111.40 580.23,113.95 580.35,113.59 580.48,112.74 580.60,113.57 580.73,115.69 580.85,114.04 580.98,113.40 581.10,115.29 581.23,113.12 581.35,113.72 581.48,113.41 581.60,113.72 581.73,114.61 581.85,114.51 581.98,113.39 582.10,113.95 582.23,114.17 582.35,113.76 582.48,114.12 582.60,113.54 582.73,113.56 582.85,114.27 582.98,113.35 583.10,114.65 583.23,114.14 583.35,113.52 583.48,112.64 583.60,113.95 583.73,114.25 583.85,114.52 583.98,114.25 584.10,113.69 584.23,115.73 584.35,115.28 584.48,114.60 584.60,115.36 584.73,114.83 584.85,116.72 584.98,114.64 585.10,116.92 585.23,111.78 585.35,115.52 585.48,114.28 585.60,115.16 585.73,116.62 585.85,115.03 585.98,115.61 586.10,117.78 586.23,115.25 586.35,116.07 586.48,119.50 586.60,115.15 586.73,114.17 586.85,117.03 586.98,115.00 587.10,114.84 587.23,115.96 587.35,114.33 587.48,114.76 587.60,114.08 587.73,114.79 587.85,114.44 587.98,115.26 588.10,114.68 588.23,114.27 588.35,114.54 588.48,114.70 588.60,114.36 588.73,115.62 588.85,115.40 588.98,114.94 589.10,113.78 589.23,115.27 589.35,113.71 589.48,114.99 589.60,114.87 589.73,114.32 589.85,114.11 589.98,114.23 590.10,116.62 590.23,114.61 590.35,114.66 590.48,115.67 590.60,115.21 590.73,115.76 590.85,113.78 590.98,113.90 591.10,117.74 591.23,114.81 591.35,114.60 591.48,114.99 591.60,115.71 591.73,113.82 591.85,115.10 591.98,114.83 592.10,115.44 592.23,115.00 592.35,114.39 592.48,114.10 592.60,112.74 592.73,117.13 592.85,113.58 592.98,114.50 593.10,116.29 593.23,114.49 593.35,115.38 593.48,114.67 593.60,115.46 593.73,114.88 593.85,114.41 593.98,122.64 594.10,114.62 594.23,113.69 594.35,114.57 594.48,115.32 594.60,113.88 594.73,115.53 594.85,115.51 594.98,116.69 595.10,114.29 595.23,115.42 595.35,113.40 595.48,114.48 595.60,114.94 595.73,115.20 595.85,114.80 595.98,114.76 596.10,114.31 596.23,114.46 596.35,115.10 596.48,115.32 596.60,115.39 596.73,115.70 596.85,115.86 596.98,113.28 597.10,114.38 597.23,114.69 597.35,114.28 597.48,115.74 597.60,115.48 597.73,114.74 597.85,114.93 597.98,115.92 598.10,114.53 598.23,114.55 598.35,115.61 598.48,115.23 598.60,116.05 598.73,115.14 598.85,117.47 598.98,114.35 599.10,114.01 599.23,114.81 599.35,112.53 599.48,115.17 599.60,115.65 599.73,114.88 599.85,114.62 599.98,115.75 600.10,114.77 600.23,115.65 600.35,116.69 600.48,115.42 600.60,115.60 600.73,115.22 600.85,115.00 600.98,115.02 601.10,114.84 601.23,115.71 601.35,113.38 601.48,114.54 601.60,115.33 601.73,114.04 601.85,114.67 601.98,114.16 602.10,115.13 602.23,115.49 602.35,116.00 602.48,115.18 602.60,114.12 602.73,114.95 602.85,115.22 602.98,115.94 603.10,112.88 603.23,115.04 603.35,113.15 603.48,115.33 603.60,115.09 603.73,115.14 603.85,115.47 603.98,115.03 604.10,114.14 604.23,115.00 604.35,115.72 604.48,114.59 604.60,114.71 604.73,113.64 604.85,115.67 604.98,114.24 605.10,114.03 605.23,113.81 605.35,113.92 605.48,114.44 605.60,115.75 605.73,115.33 605.85,115.87 605.98,115.92 606.10,113.87 606.23,115.05 606.35,115.92 606.48,116.60 606.60,113.41 606.73,113.40 606.85,115.02 606.98,114.33 607.10,113.76 607.23,114.93 607.35,115.39 607.48,112.65 607.60,114.57 607.73,114.70 607.85,115.13 607.98,115.39 608.10,114.74 608.23,114.37 608.35,114.00 608.48,111.93 608.60,114.19 608.73,115.42 608.85,115.12 608.98,116.31 609.10,114.42 609.23,113.01 609.35,118.30 609.48,115.43 609.60,113.53 609.73,113.14 609.85,117.10 609.98,115.13 610.10,113.55 610.23,114.22 610.35,113.84 610.48,113.49 610.60,113.37 610.73,114.62 610.85,114.17 610.98,113.91 611.10,112.24 611.23,115.98 611.35,113.66 611.48,114.35 611.60,113.49 611.73,114.79 611.85,113.16 611.98,114.54 612.10,114.29 612.23,115.24 612.35,113.50 612.48,113.88 612.60,114.23 612.73,116.23 612.85,113.16 612.98,114.67 613.10,113.85 613.23,114.68 613.35,114.97 613.48,114.53 613.60,114.63 613.73,114.64 613.85,113.89 613.98,114.20 614.10,112.96 614.23,114.78 614.35,113.72 614.48,114.15 614.60,115.00 614.73,114.69 614.85,114.76 614.98,115.30 615.10,112.30 615.23,113.89 615.35,114.32 615.48,114.25 615.60,113.21 615.73,114.80 615.85,115.31 615.98,115.21 616.10,114.24 616.23,114.86 616.35,115.10 616.48,113.30 616.60,115.36 616.73,114.42 616.85,114.37 616.98,114.43 617.10,114.48 617.23,113.85 617.35,114.94 617.48,113.68 617.60,113.58 617.73,114.57 617.85,113.77 617.98,114.05 618.10,112.47 618.23,114.93 618.35,114.24 618.48,114.13 618.60,114.63 618.73,114.41 618.85,113.63 618.98,116.76 619.10,113.83 619.23,115.05 619.35,115.78 619.48,113.68 619.60,114.28 619.73,113.50 619.85,115.10 619.98,113.90 620.10,113.24 620.23,115.31 620.35,114.97 620.48,113.41 620.60,115.19 620.73,114.34 620.85,116.50 620.98,115.63 621.10,113.68 621.23,113.92 621.35,113.39 621.48,114.26 621.60,114.18 621.73,114.77 621.85,114.21 621.98,112.86 622.10,113.43 622.23,115.33 622.35,115.11 622.48,113.97 622.60,113.99 622.73,113.96 622.85,114.12 622.98,112.65 623.10,114.86 623.23,113.52 623.35,114.21 623.48,111.91 623.60,114.27 623.73,115.22 623.85,112.15 623.98,115.37 624.10,114.46 624.23,113.42 624.35,112.69 624.48,115.04 624.60,114.27 624.73,114.55 624.85,113.80 624.98,113.34 625.10,114.77 625.23,113.20 625.35,114.79 625.48,112.58 625.60,113.21 625.73,112.76 625.85,115.13 625.98,112.49 626.10,113.01 626.23,114.56 626.35,114.18 626.48,115.87 626.60,115.56 626.73,114.50 626.85,114.56 626.98,112.39 627.10,113.20 627.23,113.67 627.35,113.80 627.48,112.77 627.60,113.14 627.73,113.21 627.85,114.12 627.98,114.30 628.10,113.64 628.23,113.69 628.35,114.17 628.48,113.32 628.60,113.69 628.73,112.43 628.85,114.48 628.98,114.73 629.10,114.21 629.23,114.30 629.35,114.20 629.48,115.64 629.60,114.05 629.73,112.74 629.85,112.97 629.98,114.48 630.10,114.79 630.23,114.54 630.35,114.61 630.48,114.06 630.60,112.62 630.73,113.30 630.85,112.36 630.98,113.59 631.10,112.76 631.23,114.02 631.35,113.80 631.48,112.27 631.60,114.59 631.73,114.62 631.85,112.78 631.98,114.11 632.10,114.61 632.23,113.75 632.35,114.74 632.48,114.17 632.60,114.94 632.73,114.19 632.85,113.89 632.98,114.48 633.10,114.72 633.23,114.27 633.35,113.67 633.48,113.38 633.60,113.75 633.73,113.59 633.85,114.27 633.98,114.24 634.10,114.03 634.23,114.11 634.35,114.27 634.48,115.48 634.60,115.17 634.73,113.64 634.85,114.51 634.98,113.87 635.10,114.08 635.23,113.96 635.35,113.63 635.48,113.00 635.60,112.05 635.73,114.37 635.85,115.23 635.98,113.42 636.10,114.66 636.23,113.89 636.35,114.47 636.48,113.54 636.60,114.05 636.73,114.16 636.85,112.20 636.98,114.45 637.10,114.16 637.23,112.13 637.35,114.85 637.48,114.27 637.60,114.48 637.73,114.62 637.85,112.36 637.98,113.39 638.10,113.95 638.23,113.97 638.35,116.28 638.48,115.96 638.60,113.94 638.73,114.01 638.85,114.66 638.98,114.87 639.10,113.79 639.23,113.53 639.35,116.09 639.48,115.33 639.60,113.06 639.73,112.89 639.85,113.71 639.98,114.63 640.10,114.92 640.23,114.16 640.35,113.05 640.48,114.66 640.60,115.00 640.73,114.48 640.85,114.06 640.98,115.00 641.10,114.45 641.23,113.53 641.35,114.60 641.48,113.39 641.60,115.38 641.73,114.95 641.85,113.68 641.98,114.74 642.10,115.66 642.23,112.69 642.35,114.45 642.48,116.03 642.60,113.23 642.73,114.45 642.85,113.36 642.98,114.55 643.10,112.52 643.23,113.21 643.35,114.16 643.48,114.76 643.60,114.98 643.73,115.03 643.85,115.67 643.98,115.29 644.10,115.33 644.23,113.83 644.35,114.56 644.48,117.50 644.60,114.79 644.73,115.45 644.85,115.38 644.98,115.60 645.10,114.39 645.23,116.47 645.35,114.42 645.48,114.69 645.60,116.69 645.73,112.94 645.85,115.10 645.98,113.38 646.10,114.22 646.23,114.73 646.35,114.50 646.48,114.98 646.60,114.15 646.73,114.75 646.85,113.80 646.98,114.51 647.10,113.63 647.23,115.45 647.35,113.73 647.48,115.50 647.60,114.52 647.73,114.63 647.85,115.95 647.98,115.01 648.10,113.24 648.23,115.37 648.35,112.36 648.48,115.18 648.60,114.59 648.73,113.71 648.85,114.04 648.98,114.70 649.10,116.76 649.23,114.60 649.35,116.72 649.48,116.23 649.60,114.46 649.73,114.29 649.85,116.20 649.98,114.91 650.10,115.18 650.23,114.82 650.35,113.97 650.48,114.73 650.60,114.21 650.73,113.71 650.85,114.82 650.98,116.68 651.10,116.54 651.23,115.05 651.35,115.23 651.48,115.58 651.60,116.34 651.73,115.42 651.85,110.85 651.98,114.80 652.10,116.17 652.23,117.49 652.35,114.61 652.48,113.34 652.60,115.91 652.73,115.13 652.85,115.33 652.98,116.32 653.10,115.28 653.23,114.04 653.35,116.03 653.48,115.20 653.60,114.21 653.73,115.51 653.85,114.12 653.98,114.95 654.10,113.96 654.23,114.96 654.35,114.89 654.48,115.83 654.60,116.51 654.73,115.15 654.85,114.55 654.98,117.08 655.10,115.66 655.23,115.89 655.35,115.90 655.48,116.66 655.60,116.27 655.73,115.98 655.85,116.07 655.98,114.62 656.10,114.85 656.23,115.31 656.35,115.50 656.48,115.44 656.60,115.70 656.73,115.46 656.85,115.06 656.98,110.27 657.10,116.21 657.23,115.99 657.35,114.68 657.48,115.93 657.60,115.84 657.73,115.56 657.85,112.77 657.98,114.43 658.10,114.98 658.23,116.97 658.35,114.76 658.48,115.23 658.60,114.55 658.73,115.11 658.85,115.87 658.98,113.71 659.10,115.00 659.23,116.18 659.35,115.62 659.48,115.05 659.60,116.48 659.73,116.48 659.85,113.74 659.98,115.48 660.10,116.63 660.23,115.04 660.35,115.37 660.48,116.51 660.60,115.42 660.73,114.60 660.85,115.06 660.98,114.49 661.10,116.19 661.23,114.15 661.35,116.61 661.48,114.24 661.60,115.44 661.73,114.41 661.85,115.45 661.98,116.66 662.10,116.76 662.23,116.93 662.35,115.69 662.48,115.87 662.60,115.99 662.73,116.34 662.85,115.44 662.98,116.79 663.10,116.10 663.23,116.85 663.35,116.26 663.48,116.44 663.60,115.18 663.73,115.47 663.85,114.69 663.98,115.60 664.10,115.71 664.23,116.63 664.35,114.75 664.48,118.80 664.60,115.79 664.73,117.04 664.85,116.85 664.98,113.65 665.10,115.69 665.23,117.26 665.35,113.76 665.48,116.64 665.60,115.14 665.73,115.55 665.85,116.18 665.98,114.30 666.10,116.17 666.23,115.41 666.35,115.33 666.48,116.64 666.60,119.18 666.73,116.33 666.85,116.53 666.98,115.99 667.10,115.40 667.23,116.29 667.35,117.43 667.48,116.24 667.60,116.88 667.73,115.88 667.85,118.36 667.98,114.61 668.10,116.63 668.23,116.60 668.35,116.36 668.48,115.12 668.60,115.11 668.73,115.93 668.85,116.24 668.98,115.06 669.10,115.20 669.23,116.66 669.35,117.08 669.48,115.65" fill="none" stroke="#f00" stroke-width="1.7" stroke-linejoin="round"/>
<polyline points="393.60,158.27 393.73,158.88 393.85,159.46 393.98,159.52 394.10,158.93 394.23,161.40 394.35,161.97 394.48,160.29 394.60,155.97 394.73,159.82 394.85,161.17 394.98,159.94 395.10,160.59 395.23,160.26 395.35,157.22 395.48,155.23 395.60,161.19 395.73,159.01 395.85,160.77 395.98,159.39 396.10,159.63 396.23,162.53 396.35,157.66 396.48,159.89 396.60,157.83 396.73,160.02 396.85,160.77 396.98,161.08 397.10,160.12 397.23,157.21 397.35,160.27 397.48,161.48 397.60,161.65 397.73,163.80 397.85,160.81 397.98,157.81 398.10,158.74 398.23,159.86 398.35,161.66 398.48,157.52 398.60,161.38 398.73,160.87 398.85,157.99 398.98,161.98 399.10,158.16 399.23,159.57 399.35,159.00 399.48,160.00 399.60,157.32 399.73,160.51 399.85,155.42 399.98,158.73 400.10,158.23 400.23,162.42 400.35,160.46 400.48,158.52 400.60,157.74 400.73,159.47 400.85,158.20 400.98,163.91 401.10,154.15 401.23,159.46 401.35,154.71 401.48,161.26 401.60,157.79 401.73,162.29 401.85,158.24 401.98,161.28 402.10,159.62 402.23,161.44 402.35,163.81 402.48,153.62 402.60,157.82 402.73,156.24 402.85,160.92 402.98,160.14 403.10,161.40 403.23,159.95 403.35,168.25 403.48,158.00 403.60,162.71 403.73,157.82 403.85,158.66 403.98,156.26 404.10,150.02 404.23,159.00 404.35,158.63 404.48,158.05 404.60,158.83 404.73,156.81 404.85,158.91 404.98,155.99 405.10,157.26 405.23,157.47 405.35,160.46 405.48,161.57 405.60,158.94 405.73,156.64 405.85,165.65 405.98,160.25 406.10,161.08 406.23,155.98 406.35,157.91 406.48,158.90 406.60,159.33 406.73,158.68 406.85,159.90 406.98,155.94 407.10,161.52 407.23,156.47 407.35,158.70 407.48,159.55 407.60,160.73 407.73,160.23 407.85,148.56 407.98,160.89 408.10,158.25 408.23,159.96 408.35,161.47 408.48,157.21 408.60,156.05 408.73,156.81 408.85,161.35 408.98,161.06 409.10,158.11 409.23,153.42 409.35,159.72 409.48,160.82 409.60,155.39 409.73,157.89 409.85,158.47 409.98,159.58 410.10,159.16 410.23,158.46 410.35,159.62 410.48,154.32 410.60,164.86 410.73,160.70 410.85,157.14 410.98,158.00 411.10,160.03 411.23,163.11 411.35,162.70 411.48,157.49 411.60,157.06 411.73,159.70 411.85,158.87 411.98,161.04 412.10,157.11 412.23,164.25 412.35,160.05 412.48,158.70 412.60,161.56 412.73,157.52 412.85,157.36 412.98,159.03 413.10,161.26 413.23,159.18 413.35,158.67 413.48,161.30 413.60,160.24 413.73,158.87 413.85,160.11 413.98,159.46 414.10,161.07 414.23,160.23 414.35,158.51 414.48,159.13 414.60,159.28 414.73,160.76 414.85,160.80 414.98,158.58 415.10,159.80 415.23,160.75 415.35,162.25 415.48,160.70 415.60,163.88 415.73,160.33 415.85,161.68 415.98,159.73 416.10,158.52 416.23,165.52 416.35,158.58 416.48,161.04 416.60,160.74 416.73,164.83 416.85,159.00 416.98,159.99 417.10,161.44 417.23,162.37 417.35,154.53 417.48,161.78 417.60,162.68 417.73,163.04 417.85,161.43 417.98,164.71 418.10,159.95 418.23,160.63 418.35,161.80 418.48,158.82 418.60,159.41 418.73,161.26 418.85,158.45 418.98,161.04 419.10,158.22 419.23,161.35 419.35,161.06 419.48,159.99 419.60,159.32 419.73,160.14 419.85,156.96 419.98,160.39 420.10,161.35 420.23,157.18 420.35,160.20 420.48,160.82 420.60,163.72 420.73,164.36 420.85,160.26 420.98,163.10 421.10,163.34 421.23,162.12 421.35,159.36 421.48,159.44 421.60,162.25 421.73,165.48 421.85,160.86 421.98,164.08 422.10,164.68 422.23,158.89 422.35,160.09 422.48,163.97 422.60,162.99 422.73,162.20 422.85,161.17 422.98,162.35 423.10,160.02 423.23,165.79 423.35,159.06 423.48,157.87 423.60,161.45 423.73,163.83 423.85,160.26 423.98,161.06 424.10,159.28 424.23,161.01 424.35,159.27 424.48,159.29 424.60,158.42 424.73,160.11 424.85,167.98 424.98,160.99 425.10,155.59 425.23,165.18 425.35,159.90 425.48,159.21 425.60,161.99 425.73,158.75 425.85,161.61 425.98,163.10 426.10,158.98 426.23,159.98 426.35,164.03 426.48,158.95 426.60,159.62 426.73,161.28 426.85,160.23 426.98,163.36 427.10,172.17 427.23,159.65 427.35,161.29 427.48,159.89 427.60,168.51 427.73,158.04 427.85,162.21 427.98,159.67 428.10,162.74 428.23,158.21 428.35,157.16 428.48,161.09 428.60,160.34 428.73,158.86 428.85,159.73 428.98,157.51 429.10,162.95 429.23,154.83 429.35,159.88 429.48,161.91 429.60,160.93 429.73,160.70 429.85,158.21 429.98,159.69 430.10,157.85 430.23,158.20 430.35,157.93 430.48,151.73 430.60,159.24 430.73,158.07 430.85,158.43 430.98,154.82 431.10,157.40 431.23,156.58 431.35,151.22 431.48,151.57 431.60,155.94 431.73,152.44 431.85,144.91 431.98,151.21 432.10,154.32 432.23,147.50 432.35,147.67 432.48,147.52 432.60,145.93 432.73,146.39 432.85,146.38 432.98,143.02 433.10,144.96 433.23,145.51 433.35,143.95 433.48,145.20 433.60,141.56 433.73,138.22 433.85,140.09 433.98,136.87 434.10,137.56 434.23,132.57 434.35,127.87 434.48,128.14 434.60,129.13 434.73,128.45 434.85,125.84 434.98,126.69 435.10,121.79 435.23,121.46 435.35,123.37 435.48,120.85 435.60,120.14 435.73,121.74 435.85,120.68 435.98,117.07 436.10,118.57 436.23,111.78 436.35,118.29 436.48,119.25 436.60,116.07 436.73,122.26 436.85,123.72 436.98,122.02 437.10,123.71 437.23,125.74 437.35,124.06 437.48,127.32 437.60,127.49 437.73,125.58 437.85,127.99 437.98,129.93 438.10,134.05 438.23,133.80 438.35,136.66 438.48,135.58 438.60,135.58 438.73,142.45 438.85,144.82 438.98,142.18 439.10,142.42 439.23,145.87 439.35,143.20 439.48,145.76 439.60,144.77 439.73,148.90 439.85,149.45 439.98,149.27 440.10,149.70 440.23,149.07 440.35,150.94 440.48,147.92 440.60,153.07 440.73,156.30 440.85,153.42 440.98,155.22 441.10,155.11 441.23,155.89 441.35,157.98 441.48,153.83 441.60,158.69 441.73,158.95 441.85,158.15 441.98,158.56 442.10,158.35 442.23,160.05 442.35,159.27 442.48,158.04 442.60,159.83 442.73,161.28 442.85,160.52 442.98,160.13 443.10,160.55 443.23,159.58 443.35,159.76 443.48,157.65 443.60,160.42 443.73,162.35 443.85,160.30 443.98,159.59 444.10,162.48 444.23,161.42 444.35,161.46 444.48,162.04 444.60,162.46 444.73,161.38 444.85,160.23 444.98,164.24 445.10,161.71 445.23,160.50 445.35,162.02 445.48,163.60 445.60,159.68 445.73,163.87 445.85,161.72 445.98,164.99 446.10,163.02 446.23,161.89 446.35,163.98 446.48,164.04 446.60,161.64 446.73,162.55 446.85,161.47 446.98,163.64 447.10,160.21 447.23,162.08 447.35,159.21 447.48,163.27 447.60,159.13 447.73,160.90 447.85,162.88 447.98,162.00 448.10,161.89 448.23,161.15 448.35,161.91 448.48,160.06 448.60,163.11 448.73,163.84 448.85,163.80 448.98,162.66 449.10,164.50 449.23,163.43 449.35,164.16 449.48,163.36 449.60,162.87 449.73,161.75 449.85,159.09 449.98,163.80 450.10,162.73 450.23,165.74 450.35,160.09 450.48,164.12 450.60,161.59 450.73,162.94 450.85,156.11 450.98,163.46 451.10,162.94 451.23,164.22 451.35,163.20 451.48,163.68 451.60,164.80 451.73,163.75 451.85,162.85 451.98,164.77 452.10,162.89 452.23,163.62 452.35,162.62 452.48,162.16 452.60,158.94 452.73,164.04 452.85,161.51 452.98,164.11 453.10,165.58 453.23,161.31 453.35,174.07 453.48,162.99 453.60,163.75 453.73,161.51 453.85,163.18 453.98,163.36 454.10,165.08 454.23,166.04 454.35,163.58 454.48,162.68 454.60,166.14 454.73,163.03 454.85,163.10 454.98,163.32 455.10,163.81 455.23,164.13 455.35,162.43 455.48,163.05 455.60,165.69 455.73,165.32 455.85,163.80 455.98,163.57 456.10,162.92 456.23,164.56 456.35,162.55 456.48,163.39 456.60,162.64 456.73,162.42 456.85,163.28 456.98,163.24 457.10,162.49 457.23,163.16 457.35,163.33 457.48,162.64 457.60,162.41 457.73,163.07 457.85,164.14 457.98,164.66 458.10,163.49 458.23,162.91 458.35,163.22 458.48,165.67 458.60,164.41 458.73,162.06 458.85,163.19 458.98,162.59 459.10,162.80 459.23,161.15 459.35,163.30 459.48,161.57 459.60,162.53 459.73,165.15 459.85,166.55 459.98,162.19 460.10,161.99 460.23,164.07 460.35,160.94 460.48,162.05 460.60,162.93 460.73,161.97 460.85,164.19 460.98,163.20 461.10,162.61 461.23,165.41 461.35,164.13 461.48,163.35 461.60,165.53 461.73,164.87 461.85,162.39 461.98,163.65 462.10,162.72 462.23,161.49 462.35,165.58 462.48,165.09 462.60,161.69 462.73,163.85 462.85,161.24 462.98,164.56 463.10,163.18 463.23,162.89 463.35,164.78 463.48,159.67 463.60,162.92 463.73,164.35 463.85,162.86 463.98,164.30 464.10,163.23 464.23,164.23 464.35,163.99 464.48,164.18 464.60,161.99 464.73,165.51 464.85,163.01 464.98,165.36 465.10,161.60 465.23,162.87 465.35,162.88 465.48,164.61 465.60,162.67 465.73,163.70 465.85,161.28 465.98,162.60 466.10,163.45 466.23,163.04 466.35,160.89 466.48,155.04 466.60,157.87 466.73,165.51 466.85,162.92 466.98,165.89 467.10,163.95 467.23,163.70 467.35,162.55 467.48,162.99 467.60,163.67 467.73,160.76 467.85,164.32 467.98,161.69 468.10,162.79 468.23,159.79 468.35,163.64 468.48,163.99 468.60,165.88 468.73,163.46 468.85,162.62 468.98,163.24 469.10,164.51 469.23,162.53 469.35,163.64 469.48,163.91 469.60,164.31 469.73,163.30 469.85,163.27 469.98,162.40 470.10,165.92 470.23,162.46 470.35,165.03 470.48,164.25 470.60,160.50 470.73,163.25 470.85,164.17 470.98,163.90 471.10,161.82 471.23,163.21 471.35,161.45 471.48,166.93 471.60,162.58 471.73,161.27 471.85,164.77 471.98,163.26 472.10,164.08 472.23,161.36 472.35,161.40 472.48,162.19 472.60,164.85 472.73,158.38 472.85,160.82 472.98,162.61 473.10,164.11 473.23,160.71 473.35,162.34 473.48,161.00 473.60,164.33 473.73,163.40 473.85,162.88 473.98,162.47 474.10,162.22 474.23,162.64 474.35,161.67 474.48,161.36 474.60,161.06 474.73,162.37 474.85,161.37 474.98,163.32 475.10,159.74 475.23,162.88 475.35,162.80 475.48,164.77 475.60,161.77 475.73,160.24 475.85,160.88 475.98,163.26 476.10,161.50 476.23,161.31 476.35,161.05 476.48,161.60 476.60,161.34 476.73,159.69 476.85,160.75 476.98,162.57 477.10,163.01 477.23,161.07 477.35,160.51 477.48,162.63 477.60,160.72 477.73,159.43 477.85,160.56 477.98,161.42 478.10,162.32 478.23,159.79 478.35,160.86 478.48,159.71 478.60,161.30 478.73,160.12 478.85,159.97 478.98,158.36 479.10,158.98 479.23,158.80 479.35,154.80 479.48,159.84 479.60,158.64 479.73,158.22 479.85,157.85 479.98,158.11 480.10,158.16 480.23,156.15 480.35,157.60 480.48,157.38 480.60,157.06 480.73,155.07 480.85,156.41 480.98,154.85 481.10,156.52 481.23,157.41 481.35,156.65 481.48,155.01 481.60,154.54 481.73,154.28 481.85,155.11 481.98,153.70 482.10,153.62 482.23,151.12 482.35,152.82 482.48,152.68 482.60,152.76 482.73,154.59 482.85,151.44 482.98,151.29 483.10,153.36 483.23,151.39 483.35,147.32 483.48,152.46 483.60,152.18 483.73,151.19 483.85,153.07 483.98,153.69 484.10,150.79 484.23,148.69 484.35,153.03 484.48,151.75 484.60,150.89 484.73,151.61 484.85,153.14 484.98,151.16 485.10,152.71 485.23,153.00 485.35,151.97 485.48,153.52 485.60,153.82 485.73,154.38 485.85,154.50 485.98,151.95 486.10,154.88 486.23,154.74 486.35,155.41 486.48,153.57 486.60,155.79 486.73,155.42 486.85,153.92 486.98,157.66 487.10,154.82 487.23,154.79 487.35,156.62 487.48,155.71 487.60,161.22 487.73,156.57 487.85,157.39 487.98,158.20 488.10,157.46 488.23,158.68 488.35,158.86 488.48,157.17 488.60,159.26 488.73,159.18 488.85,158.82 488.98,160.10 489.10,160.88 489.23,160.04 489.35,157.71 489.48,160.01 489.60,159.52 489.73,159.51 489.85,160.33 489.98,159.72 490.10,162.03 490.23,159.81 490.35,160.48 490.48,161.45 490.60,161.58 490.73,162.11 490.85,161.60 490.98,160.95 491.10,161.23 491.23,158.78 491.35,159.63 491.48,162.48 491.60,161.05 491.73,163.49 491.85,163.54 491.98,160.23 492.10,162.02 492.23,164.62 492.35,160.93 492.48,162.29 492.60,161.65 492.73,158.71 492.85,161.69 492.98,162.02 493.10,162.92 493.23,161.24 493.35,162.71 493.48,161.42 493.60,161.61 493.73,162.61 493.85,161.44 493.98,162.48 494.10,161.54 494.23,161.45 494.35,163.06 494.48,160.44 494.60,163.06 494.73,163.24 494.85,159.68 494.98,163.70 495.10,163.52 495.23,161.14 495.35,163.14 495.48,163.09 495.60,161.80 495.73,163.24 495.85,163.45 495.98,161.86 496.10,160.49 496.23,163.11 496.35,161.88 496.48,160.83 496.60,162.29 496.73,160.14 496.85,162.37 496.98,164.37 497.10,159.67 497.23,163.26 497.35,161.78 497.48,162.34 497.60,161.81 497.73,163.49 497.85,162.80 497.98,161.98 498.10,161.42 498.23,162.37 498.35,164.08 498.48,161.54 498.60,165.50 498.73,163.23 498.85,159.11 498.98,164.06 499.10,162.84 499.23,165.29 499.35,164.76 499.48,162.63 499.60,162.74 499.73,161.84 499.85,161.45 499.98,163.78 500.10,162.66 500.23,164.38 500.35,162.76 500.48,163.67 500.60,163.96 500.73,162.95 500.85,162.75 500.98,163.07 501.10,165.18 501.23,160.75 501.35,161.74 501.48,161.36 501.60,163.14 501.73,164.30 501.85,164.39 501.98,165.10 502.10,162.15 502.23,163.66 502.35,162.75 502.48,164.04 502.60,163.21 502.73,163.96 502.85,162.23 502.98,163.20 503.10,162.48 503.23,162.75 503.35,162.55 503.48,161.94 503.60,164.22 503.73,163.35 503.85,164.20 503.98,161.99 504.10,160.98 504.23,162.37 504.35,162.89 504.48,163.89 504.60,164.17 504.73,164.35 504.85,164.68 504.98,163.83 505.10,163.18 505.23,162.26 505.35,163.79 505.48,162.54 505.60,162.23 505.73,163.69 505.85,163.31 505.98,163.98 506.10,162.33 506.23,164.31 506.35,163.46 506.48,162.91 506.60,162.29 506.73,161.96 506.85,161.66 506.98,164.55 507.10,161.61 507.23,163.75 507.35,162.83 507.48,162.49 507.60,162.60 507.73,162.99 507.85,164.04 507.98,163.68 508.10,163.10 508.23,161.67 508.35,161.25 508.48,165.04 508.60,162.06 508.73,161.47 508.85,164.27 508.98,161.55 509.10,163.87 509.23,164.07 509.35,163.36 509.48,164.10 509.60,161.67 509.73,161.84 509.85,162.91 509.98,163.10 510.10,163.02 510.23,163.59 510.35,162.35 510.48,160.92 510.60,163.52 510.73,162.87 510.85,163.94 510.98,165.24 511.10,163.19 511.23,160.79 511.35,162.19 511.48,164.04 511.60,163.46 511.73,163.36 511.85,164.04 511.98,161.95 512.10,163.69 512.23,163.58 512.35,164.73 512.48,161.27 512.60,163.02 512.73,165.34 512.85,162.70 512.98,162.67 513.10,164.92 513.23,171.74 513.35,163.23 513.48,162.39 513.60,162.51 513.73,162.71 513.85,162.26 513.98,162.29 514.10,163.29 514.23,163.15 514.35,167.73 514.48,166.66 514.60,161.89 514.73,163.85 514.85,163.36 514.98,162.52 515.10,162.83 515.23,163.43 515.35,163.19 515.48,162.98 515.60,163.88 515.73,164.17 515.85,162.79 515.98,163.08 516.10,162.00 516.23,162.94 516.35,163.58 516.48,163.97 516.60,163.27 516.73,163.02 516.85,162.39 516.98,163.32 517.10,162.02 517.23,163.23 517.35,163.12 517.48,162.20 517.60,163.43 517.73,161.71 517.85,163.70 517.98,162.62 518.10,163.58 518.23,164.64 518.35,163.28 518.48,163.88 518.60,162.46 518.73,162.75 518.85,161.24 518.98,162.95 519.10,161.98 519.23,163.21 519.35,161.07 519.48,162.25 519.60,163.17 519.73,163.48 519.85,161.47 519.98,162.68 520.10,165.60 520.23,159.57 520.35,163.24 520.48,160.38 520.60,162.17 520.73,163.58 520.85,163.30 520.98,163.51 521.10,164.00 521.23,163.16 521.35,166.84 521.48,161.30 521.60,165.50 521.73,162.76 521.85,162.42 521.98,164.51 522.10,163.63 522.23,163.99 522.35,162.43 522.48,163.31 522.60,163.72 522.73,161.91 522.85,162.81 522.98,162.78 523.10,162.73 523.23,163.78 523.35,161.78 523.48,163.43 523.60,163.24 523.73,164.13 523.85,162.93 523.98,162.34 524.10,161.58 524.23,163.07 524.35,166.79 524.48,164.95 524.60,165.22 524.73,164.52 524.85,162.09 524.98,161.61 525.10,162.74 525.23,162.09 525.35,164.35 525.48,163.07 525.60,162.56 525.73,162.45 525.85,164.17 525.98,162.03 526.10,163.42 526.23,161.65 526.35,162.74 526.48,162.29 526.60,163.24 526.73,163.08 526.85,164.09 526.98,163.59 527.10,162.33 527.23,161.63 527.35,162.12 527.48,162.49 527.60,162.68 527.73,162.16 527.85,163.95 527.98,163.80 528.10,162.63 528.23,162.41 528.35,162.66 528.48,163.44 528.60,162.86 528.73,161.30 528.85,162.46 528.98,161.05 529.10,162.30 529.23,163.52 529.35,161.83 529.48,163.02 529.60,162.26 529.73,162.18 529.85,164.76 529.98,163.71 530.10,163.31 530.23,162.42 530.35,163.23 530.48,162.65 530.60,163.27 530.73,161.95 530.85,162.75 530.98,162.44 531.10,161.44 531.23,164.46 531.35,163.60 531.48,162.04 531.60,161.38 531.73,162.09 531.85,161.98 531.98,162.20 532.10,161.32 532.23,161.98 532.35,162.84 532.48,163.18 532.60,160.85 532.73,162.77 532.85,161.81 532.98,161.75 533.10,162.45 533.23,162.09 533.35,163.43 533.48,163.43 533.60,162.45 533.73,162.12 533.85,164.48 533.98,164.56 534.10,163.11 534.23,162.58 534.35,163.71 534.48,164.14 534.60,162.21 534.73,164.48 534.85,162.56 534.98,163.78 535.10,162.21 535.23,162.77 535.35,162.26 535.48,162.73 535.60,163.69 535.73,161.82 535.85,162.40 535.98,163.22 536.10,162.23 536.23,164.66 536.35,161.25 536.48,165.15 536.60,162.03 536.73,163.62 536.85,164.24 536.98,165.83 537.10,161.28 537.23,162.33 537.35,162.72 537.48,163.20 537.60,163.60 537.73,163.74 537.85,164.08 537.98,161.70 538.10,163.60 538.23,160.92 538.35,162.77 538.48,161.58 538.60,160.88 538.73,163.51 538.85,162.58 538.98,163.57 539.10,161.06 539.23,161.45 539.35,162.50 539.48,161.94 539.60,162.66 539.73,161.98 539.85,162.25 539.98,160.55 540.10,163.83 540.23,162.26 540.35,161.41 540.48,163.23 540.60,163.03 540.73,162.77 540.85,162.77 540.98,162.17 541.10,162.42 541.23,160.38 541.35,161.02 541.48,161.33 541.60,162.81 541.73,163.72 541.85,162.37 541.98,162.26 542.10,163.62 542.23,163.90 542.35,163.15 542.48,163.34 542.60,165.25 542.73,162.81 542.85,162.70 542.98,161.37 543.10,161.48 543.23,161.24 543.35,163.82 543.48,168.86 543.60,163.17 543.73,165.01 543.85,161.15 543.98,163.84 544.10,164.26 544.23,164.04 544.35,161.54 544.48,163.51 544.60,162.34 544.73,163.50 544.85,161.81 544.98,162.45 545.10,161.88 545.23,159.82 545.35,162.33 545.48,163.51 545.60,163.22 545.73,162.82 545.85,162.38 545.98,162.11 546.10,162.41 546.23,163.13 546.35,162.52 546.48,162.68 546.60,162.35 546.73,162.31 546.85,161.73 546.98,160.54 547.10,162.93 547.23,162.92 547.35,161.42 547.48,164.23 547.60,161.22 547.73,163.33 547.85,162.60 547.98,162.66 548.10,163.46 548.23,163.24 548.35,162.36 548.48,161.30 548.60,161.14 548.73,162.51 548.85,163.86 548.98,163.18 549.10,162.28 549.23,162.63 549.35,162.97 549.48,163.98 549.60,161.55 549.73,163.00 549.85,162.56 549.98,161.54 550.10,161.29 550.23,163.52 550.35,162.59 550.48,162.06 550.60,162.36 550.73,163.22 550.85,162.35 550.98,163.82 551.10,161.99 551.23,161.48 551.35,162.13 551.48,161.32 551.60,161.89 551.73,163.42 551.85,163.89 551.98,162.83 552.10,162.41 552.23,161.32 552.35,161.23 552.48,162.56 552.60,162.36 552.73,158.78 552.85,161.75 552.98,163.70 553.10,163.14 553.23,162.22 553.35,162.39 553.48,163.41 553.60,162.51 553.73,162.39 553.85,160.61 553.98,160.50 554.10,160.28 554.23,159.94 554.35,162.12 554.48,162.45 554.60,161.27 554.73,162.54 554.85,162.54 554.98,162.03 555.10,160.66 555.23,163.50 555.35,163.43 555.48,161.52 555.60,163.97 555.73,162.12 555.85,161.30 555.98,161.66 556.10,160.25 556.23,161.71 556.35,160.49 556.48,163.14 556.60,162.35 556.73,160.68 556.85,162.58 556.98,160.34 557.10,162.16 557.23,162.47 557.35,162.06 557.48,160.90 557.60,161.88 557.73,161.80 557.85,162.03 557.98,163.41 558.10,163.61 558.23,163.49 558.35,161.33 558.48,161.21 558.60,161.95 558.73,162.35 558.85,159.91 558.98,161.31 559.10,156.94 559.23,160.68 559.35,161.17 559.48,161.19 559.60,162.34 559.73,161.80 559.85,161.54 559.98,160.36 560.10,162.43 560.23,161.83 560.35,161.17 560.48,161.83 560.60,162.56 560.73,160.35 560.85,160.26 560.98,160.77 561.10,160.90 561.23,158.77 561.35,161.14 561.48,162.79 561.60,161.38 561.73,162.67 561.85,154.87 561.98,161.54 562.10,162.99 562.23,163.15 562.35,161.12 562.48,160.79 562.60,161.95 562.73,160.37 562.85,161.18 562.98,159.89 563.10,161.58 563.23,161.48 563.35,164.93 563.48,161.78 563.60,160.77 563.73,161.29 563.85,160.11 563.98,161.37 564.10,161.10 564.23,161.69 564.35,162.16 564.48,159.28 564.60,161.51 564.73,161.87 564.85,159.96 564.98,162.94 565.10,160.36 565.23,163.41 565.35,161.74 565.48,161.88 565.60,159.16 565.73,161.84 565.85,159.82 565.98,159.99 566.10,158.83 566.23,161.21 566.35,159.95 566.48,161.32 566.60,161.12 566.73,159.19 566.85,161.12 566.98,160.64 567.10,160.53 567.23,160.72 567.35,160.19 567.48,160.17 567.60,161.13 567.73,159.08 567.85,158.82 567.98,159.18 568.10,160.86 568.23,159.48 568.35,161.58 568.48,156.67 568.60,158.90 568.73,159.10 568.85,159.72 568.98,160.69 569.10,159.14 569.23,158.27 569.35,160.00 569.48,160.62 569.60,156.57 569.73,159.54 569.85,159.20 569.98,158.03 570.10,158.31 570.23,158.98 570.35,158.67 570.48,158.33 570.60,157.38 570.73,158.72 570.85,157.74 570.98,158.41 571.10,157.70 571.23,158.41 571.35,158.88 571.48,158.34 571.60,158.70 571.73,156.34 571.85,158.43 571.98,158.22 572.10,157.30 572.23,157.72 572.35,155.14 572.48,157.90 572.60,157.41 572.73,155.60 572.85,158.27 572.98,157.16 573.10,154.89 573.23,157.55 573.35,156.32 573.48,157.89 573.60,157.54 573.73,158.32 573.85,158.67 573.98,155.71 574.10,157.96 574.23,157.39 574.35,156.94 574.48,159.31 574.60,159.02 574.73,157.15 574.85,157.12 574.98,159.04 575.10,157.70 575.23,158.05 575.35,156.52 575.48,158.35 575.60,159.64 575.73,158.16 575.85,158.55 575.98,160.41 576.10,159.64 576.23,160.23 576.35,159.53 576.48,160.15 576.60,157.46 576.73,160.80 576.85,157.60 576.98,163.73 577.10,158.18 577.23,159.27 577.35,158.72 577.48,158.54 577.60,156.88 577.73,161.80 577.85,159.62 577.98,159.82 578.10,158.47 578.23,159.82 578.35,160.30 578.48,159.91 578.60,160.64 578.73,159.29 578.85,160.47 578.98,161.06 579.10,160.79 579.23,160.67 579.35,160.25 579.48,159.45 579.60,160.98 579.73,160.11 579.85,159.63 579.98,161.31 580.10,159.07 580.23,160.12 580.35,161.44 580.48,161.64 580.60,160.41 580.73,160.86 580.85,161.35 580.98,160.80 581.10,160.16 581.23,161.34 581.35,157.23 581.48,161.08 581.60,162.08 581.73,161.33 581.85,161.65 581.98,161.24 582.10,162.97 582.23,160.44 582.35,160.90 582.48,160.40 582.60,161.53 582.73,160.00 582.85,161.66 582.98,161.97 583.10,160.52 583.23,160.46 583.35,159.87 583.48,161.35 583.60,160.25 583.73,160.74 583.85,160.94 583.98,160.70 584.10,162.17 584.23,162.91 584.35,159.36 584.48,160.63 584.60,161.65 584.73,160.42 584.85,160.92 584.98,161.64 585.10,162.78 585.23,162.58 585.35,161.18 585.48,159.88 585.60,161.13 585.73,161.32 585.85,160.37 585.98,159.81 586.10,161.15 586.23,162.44 586.35,162.25 586.48,159.74 586.60,161.34 586.73,160.93 586.85,161.45 586.98,160.49 587.10,162.42 587.23,161.35 587.35,162.10 587.48,162.39 587.60,159.71 587.73,161.36 587.85,163.01 587.98,161.59 588.10,162.57 588.23,161.98 588.35,161.11 588.48,161.86 588.60,162.59 588.73,162.82 588.85,162.98 588.98,160.54 589.10,162.39 589.23,160.29 589.35,161.48 589.48,161.41 589.60,162.21 589.73,161.91 589.85,162.81 589.98,161.04 590.10,162.42 590.23,162.00 590.35,161.63 590.48,163.35 590.60,162.17 590.73,161.93 590.85,162.38 590.98,161.60 591.10,161.39 591.23,162.01 591.35,162.08 591.48,162.30 591.60,163.45 591.73,161.06 591.85,161.42 591.98,158.84 592.10,162.56 592.23,164.39 592.35,163.56 592.48,160.81 592.60,162.67 592.73,160.72 592.85,160.59 592.98,162.43 593.10,161.23 593.23,161.00 593.35,163.95 593.48,161.36 593.60,163.15 593.73,160.71 593.85,160.76 593.98,161.76 594.10,160.72 594.23,162.11 594.35,159.64 594.48,161.85 594.60,160.39 594.73,160.77 594.85,161.88 594.98,161.47 595.10,157.09 595.23,162.45 595.35,161.97 595.48,162.05 595.60,162.95 595.73,161.62 595.85,162.48 595.98,161.30 596.10,162.27 596.23,162.19 596.35,156.82 596.48,161.10 596.60,160.49 596.73,160.81 596.85,162.22 596.98,161.57 597.10,161.42 597.23,162.15 597.35,162.39 597.48,163.02 597.60,161.14 597.73,162.22 597.85,162.37 597.98,160.81 598.10,161.82 598.23,160.84 598.35,161.50 598.48,161.22 598.60,160.11 598.73,160.89 598.85,161.12 598.98,161.80 599.10,161.02 599.23,162.06 599.35,160.91 599.48,161.23 599.60,162.28 599.73,162.02 599.85,161.86 599.98,161.02 600.10,162.66 600.23,163.02 600.35,161.38 600.48,161.05 600.60,160.76 600.73,163.37 600.85,160.90 600.98,160.50 601.10,162.00 601.23,162.74 601.35,160.59 601.48,161.64 601.60,160.41 601.73,161.11 601.85,163.30 601.98,161.93 602.10,161.53 602.23,161.85 602.35,162.05 602.48,161.69 602.60,160.67 602.73,160.68 602.85,163.68 602.98,161.08 603.10,162.93 603.23,161.13 603.35,163.03 603.48,162.47 603.60,161.62 603.73,163.71 603.85,155.71 603.98,161.61 604.10,161.03 604.23,161.10 604.35,161.50 604.48,160.94 604.60,161.54 604.73,163.33 604.85,160.22 604.98,160.68 605.10,160.96 605.23,161.42 605.35,162.81 605.48,162.54 605.60,162.32 605.73,162.06 605.85,164.12 605.98,160.82 606.10,160.80 606.23,161.86 606.35,162.08 606.48,161.67 606.60,161.11 606.73,160.67 606.85,161.64 606.98,161.24 607.10,161.46 607.23,159.74 607.35,163.17 607.48,162.34 607.60,163.65 607.73,161.44 607.85,161.98 607.98,161.70 608.10,161.95 608.23,161.70 608.35,161.79 608.48,160.10 608.60,161.69 608.73,162.60 608.85,160.13 608.98,161.63 609.10,162.49 609.23,163.15 609.35,161.89 609.48,162.40 609.60,163.61 609.73,163.19 609.85,161.56 609.98,161.42 610.10,162.94 610.23,162.20 610.35,161.49 610.48,161.64 610.60,162.29 610.73,161.81 610.85,161.77 610.98,161.79 611.10,160.62 611.23,163.63 611.35,163.15 611.48,163.43 611.60,161.90 611.73,162.14 611.85,162.57 611.98,162.80 612.10,160.33 612.23,162.37 612.35,161.11 612.48,161.98 612.60,161.43 612.73,163.64 612.85,162.56 612.98,162.03 613.10,163.36 613.23,162.00 613.35,161.39 613.48,161.90 613.60,161.73 613.73,162.12 613.85,162.86 613.98,161.97 614.10,162.02 614.23,163.03 614.35,162.36 614.48,162.98 614.60,162.22 614.73,160.89 614.85,161.06 614.98,160.57 615.10,163.17 615.23,162.50 615.35,161.68 615.48,161.20 615.60,162.46 615.73,162.00 615.85,162.43 615.98,161.35 616.10,161.11 616.23,163.59 616.35,161.26 616.48,162.12 616.60,163.39 616.73,160.45 616.85,162.80 616.98,162.22 617.10,162.03 617.23,161.95 617.35,161.07 617.48,160.11 617.60,163.92 617.73,161.91 617.85,163.00 617.98,163.21 618.10,162.45 618.23,162.61 618.35,162.85 618.48,163.65 618.60,162.65 618.73,163.37 618.85,161.93 618.98,161.81 619.10,162.29 619.23,162.58 619.35,162.71 619.48,162.41 619.60,163.00 619.73,162.28 619.85,164.06 619.98,162.54 620.10,162.56 620.23,162.69 620.35,161.93 620.48,161.24 620.60,162.37 620.73,161.96 620.85,161.46 620.98,162.37 621.10,162.08 621.23,161.72 621.35,160.63 621.48,162.11 621.60,163.89 621.73,163.09 621.85,163.27 621.98,164.62 622.10,163.26 622.23,161.67 622.35,161.87 622.48,162.77 622.60,160.98 622.73,162.35 622.85,162.58 622.98,163.86 623.10,161.66 623.23,162.70 623.35,161.71 623.48,161.82 623.60,159.84 623.73,162.86 623.85,163.38 623.98,162.81 624.10,162.48 624.23,164.60 624.35,162.84 624.48,161.20 624.60,162.16 624.73,162.29 624.85,163.83 624.98,161.53 625.10,162.75 625.23,163.26 625.35,161.62 625.48,162.45 625.60,160.52 625.73,162.46 625.85,160.35 625.98,162.02 626.10,163.96 626.23,162.76 626.35,162.43 626.48,162.53 626.60,164.37 626.73,162.91 626.85,163.36 626.98,162.00 627.10,162.01 627.23,161.45 627.35,161.77 627.48,161.78 627.60,163.32 627.73,163.01 627.85,162.32 627.98,161.93 628.10,159.78 628.23,161.89 628.35,162.72 628.48,163.04 628.60,159.62 628.73,160.24 628.85,161.47 628.98,161.51 629.10,162.25 629.23,162.02 629.35,163.00 629.48,160.76 629.60,159.58 629.73,163.33 629.85,162.66 629.98,161.72 630.10,162.89 630.23,162.74 630.35,161.67 630.48,163.12 630.60,163.11 630.73,162.37 630.85,163.36 630.98,161.43 631.10,163.20 631.23,162.33 631.35,161.65 631.48,161.97 631.60,163.58 631.73,162.01 631.85,162.20 631.98,161.92 632.10,161.80 632.23,163.41 632.35,164.55 632.48,163.76 632.60,163.00 632.73,163.23 632.85,162.23 632.98,162.09 633.10,161.48 633.23,163.87 633.35,162.25 633.48,161.90 633.60,161.98 633.73,162.74 633.85,162.07 633.98,162.59 634.10,162.73 634.23,163.80 634.35,161.45 634.48,162.85 634.60,161.95 634.73,162.20 634.85,164.07 634.98,163.17 635.10,162.25 635.23,163.05 635.35,162.59 635.48,163.62 635.60,162.17 635.73,163.06 635.85,162.43 635.98,162.63 636.10,162.48 636.23,162.06 636.35,162.73 636.48,163.53 636.60,162.08 636.73,162.29 636.85,162.98 636.98,161.96 637.10,163.44 637.23,163.29 637.35,160.57 637.48,162.06 637.60,161.68 637.73,163.41 637.85,163.52 637.98,161.58 638.10,162.05 638.23,162.60 638.35,162.34 638.48,163.33 638.60,163.57 638.73,163.22 638.85,163.68 638.98,163.54 639.10,162.63 639.23,161.82 639.35,162.03 639.48,163.45 639.60,163.52 639.73,163.63 639.85,162.42 639.98,162.36 640.10,162.96 640.23,163.86 640.35,163.05 640.48,162.93 640.60,161.98 640.73,163.14 640.85,163.23 640.98,161.66 641.10,164.34 641.23,161.92 641.35,163.59 641.48,162.57 641.60,162.90 641.73,162.05 641.85,162.25 641.98,163.40 642.10,162.59 642.23,162.46 642.35,163.58 642.48,163.42 642.60,162.93 642.73,162.99 642.85,164.34 642.98,162.64 643.10,158.25 643.23,163.18 643.35,161.54 643.48,161.06 643.60,162.92 643.73,166.29 643.85,162.99 643.98,162.33 644.10,162.23 644.23,163.55 644.35,162.56 644.48,161.37 644.60,163.44 644.73,163.05 644.85,163.18 644.98,163.78 645.10,164.04 645.23,164.46 645.35,162.69 645.48,160.94 645.60,163.12 645.73,162.72 645.85,164.05 645.98,164.01 646.10,163.29 646.23,164.10 646.35,162.99 646.48,162.83 646.60,162.11 646.73,162.60 646.85,163.07 646.98,163.84 647.10,162.23 647.23,163.61 647.35,165.00 647.48,161.69 647.60,162.67 647.73,159.68 647.85,163.81 647.98,168.82 648.10,164.02 648.23,162.88 648.35,162.07 648.48,162.87 648.60,162.89 648.73,163.14 648.85,162.12 648.98,164.30 649.10,162.28 649.23,163.55 649.35,163.13 649.48,161.96 649.60,163.00 649.73,162.97 649.85,162.78 649.98,163.68 650.10,162.53 650.23,165.25 650.35,163.98 650.48,162.14 650.60,160.73 650.73,164.10 650.85,163.20 650.98,163.05 651.10,162.10 651.23,161.69 651.35,161.31 651.48,165.30 651.60,164.43 651.73,162.50 651.85,164.68 651.98,161.33 652.10,163.63 652.23,163.64 652.35,162.23 652.48,162.60 652.60,162.07 652.73,163.05 652.85,164.20 652.98,163.92 653.10,163.40 653.23,164.03 653.35,161.42 653.48,164.85 653.60,162.99 653.73,161.85 653.85,162.69 653.98,162.46 654.10,163.13 654.23,163.33 654.35,160.95 654.48,164.19 654.60,164.61 654.73,162.12 654.85,164.39 654.98,164.20 655.10,163.98 655.23,164.54 655.35,161.82 655.48,163.73 655.60,162.17 655.73,165.22 655.85,162.21 655.98,161.98 656.10,164.10 656.23,163.65 656.35,163.12 656.48,163.22 656.60,163.66 656.73,164.67 656.85,162.46 656.98,162.60 657.10,162.59 657.23,163.05 657.35,163.13 657.48,161.96 657.60,163.40 657.73,161.98 657.85,162.85 657.98,165.14 658.10,162.92 658.23,164.48 658.35,164.62 658.48,164.12 658.60,164.58 658.73,162.89 658.85,164.43 658.98,163.11 659.10,163.36 659.23,163.41 659.35,161.96 659.48,162.62 659.60,163.03 659.73,163.50 659.85,163.06 659.98,162.41 660.10,162.13 660.23,163.19 660.35,162.12 660.48,162.12 660.60,163.10 660.73,163.36 660.85,162.45 660.98,161.59 661.10,163.46 661.23,163.95 661.35,162.84 661.48,162.87 661.60,161.11 661.73,164.03 661.85,162.23 661.98,163.87 662.10,162.69 662.23,163.10 662.35,163.06 662.48,161.61 662.60,165.73 662.73,161.83 662.85,163.34 662.98,162.51 663.10,163.04 663.23,164.50 663.35,161.57 663.48,163.13 663.60,163.71 663.73,163.37 663.85,163.63 663.98,162.59 664.10,161.79 664.23,162.09 664.35,162.91 664.48,163.95 664.60,163.36 664.73,164.74 664.85,163.38 664.98,163.47 665.10,163.48 665.23,161.74 665.35,163.82 665.48,162.30 665.60,162.97 665.73,165.43 665.85,162.20 665.98,163.42 666.10,163.58 666.23,163.44 666.35,163.33 666.48,162.82 666.60,165.13 666.73,161.03 666.85,162.41 666.98,164.68 667.10,163.84 667.23,162.66 667.35,162.54 667.48,163.13 667.60,165.73 667.73,163.80 667.85,162.43 667.98,163.58 668.10,162.80 668.23,164.72 668.35,163.64 668.48,164.51 668.60,163.52 668.73,165.22 668.85,163.76 668.98,163.64 669.10,162.47 669.23,163.01 669.35,163.74 669.48,162.94" fill="none" stroke="#0000f0" stroke-width="1.8" stroke-linejoin="round"/>
<polyline points="393.60,209.61 393.73,209.29 393.85,208.84 393.98,208.94 394.10,209.51 394.23,209.42 394.35,208.95 394.48,208.98 394.60,209.10 394.73,209.46 394.85,209.69 394.98,209.89 395.10,209.34 395.23,210.13 395.35,209.82 395.48,210.16 395.60,209.13 395.73,209.78 395.85,210.00 395.98,208.75 396.10,209.94 396.23,209.72 396.35,209.94 396.48,209.62 396.60,210.05 396.73,209.37 396.85,209.33 396.98,209.88 397.10,209.88 397.23,208.98 397.35,210.10 397.48,210.09 397.60,210.03 397.73,209.27 397.85,210.14 397.98,209.82 398.10,210.00 398.23,209.58 398.35,209.42 398.48,209.30 398.60,209.34 398.73,210.01 398.85,209.28 398.98,209.35 399.10,209.77 399.23,209.51 399.35,208.74 399.48,209.35 399.60,209.48 399.73,210.34 399.85,209.94 399.98,209.21 400.10,209.17 400.23,209.46 400.35,209.76 400.48,209.32 400.60,209.85 400.73,209.05 400.85,209.81 400.98,210.19 401.10,208.52 401.23,209.67 401.35,209.79 401.48,209.88 401.60,209.73 401.73,209.66 401.85,209.81 401.98,209.74 402.10,209.73 402.23,210.38 402.35,210.14 402.48,210.10 402.60,209.43 402.73,209.49 402.85,210.16 402.98,209.25 403.10,210.15 403.23,209.12 403.35,210.63 403.48,210.25 403.60,209.47 403.73,209.51 403.85,208.82 403.98,209.68 404.10,210.22 404.23,209.97 404.35,209.59 404.48,210.59 404.60,209.94 404.73,209.87 404.85,209.56 404.98,209.94 405.10,210.82 405.23,209.88 405.35,208.95 405.48,209.76 405.60,210.49 405.73,210.17 405.85,209.42 405.98,209.79 406.10,208.99 406.23,209.90 406.35,209.23 406.48,209.37 406.60,209.34 406.73,209.26 406.85,210.30 406.98,210.19 407.10,209.40 407.23,209.55 407.35,210.22 407.48,209.35 407.60,209.26 407.73,209.06 407.85,210.08 407.98,209.45 408.10,209.36 408.23,209.14 408.35,208.90 408.48,209.68 408.60,208.90 408.73,208.98 408.85,208.44 408.98,208.65 409.10,208.87 409.23,208.84 409.35,208.36 409.48,208.71 409.60,208.87 409.73,207.74 409.85,209.09 409.98,208.67 410.10,208.16 410.23,208.57 410.35,208.83 410.48,208.59 410.60,208.55 410.73,208.49 410.85,208.71 410.98,207.78 411.10,208.06 411.23,208.42 411.35,208.21 411.48,207.68 411.60,207.96 411.73,207.72 411.85,207.98 411.98,207.19 412.10,207.15 412.23,207.18 412.35,207.70 412.48,208.78 412.60,208.08 412.73,208.14 412.85,207.57 412.98,208.21 413.10,207.64 413.23,207.47 413.35,207.89 413.48,206.86 413.60,206.41 413.73,206.82 413.85,207.94 413.98,207.71 414.10,207.39 414.23,207.21 414.35,207.24 414.48,207.49 414.60,206.96 414.73,207.69 414.85,206.96 414.98,207.99 415.10,207.29 415.23,207.08 415.35,207.39 415.48,207.16 415.60,207.55 415.73,206.87 415.85,207.50 415.98,207.80 416.10,208.00 416.23,207.72 416.35,208.48 416.48,207.28 416.60,207.98 416.73,207.93 416.85,208.21 416.98,208.16 417.10,208.95 417.23,208.41 417.35,208.07 417.48,209.63 417.60,208.63 417.73,208.60 417.85,209.13 417.98,208.54 418.10,208.77 418.23,209.30 418.35,208.47 418.48,208.85 418.60,209.52 418.73,209.95 418.85,209.18 418.98,209.23 419.10,209.80 419.23,208.73 419.35,209.12 419.48,209.13 419.60,208.62 419.73,208.30 419.85,209.44 419.98,210.05 420.10,209.99 420.23,210.29 420.35,208.58 420.48,209.75 420.60,210.43 420.73,209.50 420.85,209.35 420.98,210.10 421.10,209.99 421.23,210.29 421.35,210.04 421.48,210.61 421.60,210.40 421.73,210.23 421.85,209.98 421.98,210.47 422.10,209.90 422.23,210.63 422.35,210.73 422.48,210.66 422.60,209.71 422.73,210.48 422.85,210.47 422.98,210.70 423.10,209.65 423.23,210.09 423.35,210.33 423.48,210.99 423.60,210.13 423.73,210.80 423.85,210.49 423.98,211.28 424.10,210.59 424.23,209.75 424.35,210.35 424.48,210.59 424.60,211.05 424.73,210.79 424.85,210.39 424.98,209.96 425.10,210.54 425.23,210.49 425.35,211.13 425.48,210.97 425.60,209.95 425.73,209.55 425.85,210.40 425.98,210.71 426.10,210.17 426.23,210.38 426.35,211.14 426.48,210.95 426.60,209.87 426.73,210.79 426.85,210.71 426.98,210.56 427.10,210.91 427.23,210.92 427.35,211.77 427.48,210.78 427.60,210.36 427.73,210.47 427.85,211.02 427.98,211.56 428.10,210.98 428.23,210.95 428.35,210.84 428.48,210.53 428.60,210.77 428.73,210.21 428.85,211.08 428.98,210.96 429.10,210.84 429.23,210.39 429.35,210.66 429.48,210.53 429.60,210.92 429.73,210.66 429.85,210.96 429.98,211.21 430.10,211.36 430.23,210.35 430.35,210.66 430.48,210.32 430.60,211.36 430.73,210.43 430.85,211.40 430.98,210.59 431.10,211.26 431.23,210.57 431.35,210.71 431.48,210.87 431.60,210.85 431.73,210.75 431.85,211.11 431.98,211.34 432.10,211.19 432.23,210.60 432.35,210.00 432.48,210.87 432.60,209.56 432.73,211.11 432.85,211.09 432.98,210.28 433.10,211.07 433.23,210.52 433.35,211.37 433.48,210.48 433.60,210.45 433.73,210.53 433.85,210.92 433.98,210.36 434.10,211.81 434.23,210.65 434.35,211.58 434.48,210.69 434.60,210.67 434.73,210.50 434.85,210.47 434.98,211.00 435.10,211.34 435.23,210.85 435.35,210.41 435.48,210.90 435.60,210.45 435.73,209.62 435.85,210.86 435.98,210.03 436.10,210.52 436.23,210.82 436.35,210.62 436.48,210.68 436.60,211.47 436.73,211.21 436.85,211.45 436.98,210.88 437.10,210.88 437.23,211.56 437.35,210.50 437.48,210.92 437.60,210.83 437.73,210.90 437.85,211.03 437.98,210.81 438.10,211.11 438.23,210.38 438.35,210.97 438.48,210.29 438.60,211.22 438.73,211.17 438.85,210.64 438.98,210.50 439.10,210.71 439.23,210.96 439.35,210.05 439.48,210.26 439.60,211.11 439.73,210.60 439.85,210.12 439.98,209.70 440.10,210.48 440.23,209.89 440.35,210.71 440.48,210.61 440.60,211.44 440.73,210.08 440.85,210.90 440.98,210.08 441.10,210.14 441.23,210.49 441.35,210.20 441.48,211.36 441.60,210.52 441.73,210.20 441.85,211.53 441.98,210.15 442.10,210.31 442.23,210.37 442.35,210.10 442.48,210.68 442.60,210.91 442.73,209.80 442.85,210.12 442.98,210.13 443.10,209.64 443.23,209.63 443.35,210.00 443.48,209.71 443.60,210.17 443.73,210.31 443.85,209.95 443.98,209.89 444.10,209.24 444.23,209.24 444.35,209.51 444.48,209.41 444.60,208.91 444.73,208.94 444.85,208.32 444.98,207.61 445.10,207.91 445.23,207.21 445.35,206.23 445.48,206.88 445.60,206.18 445.73,205.80 445.85,204.71 445.98,204.96 446.10,203.91 446.23,203.49 446.35,202.14 446.48,201.64 446.60,201.71 446.73,200.55 446.85,200.02 446.98,200.17 447.10,199.61 447.23,198.90 447.35,199.42 447.48,197.86 447.60,198.51 447.73,198.45 447.85,199.60 447.98,200.01 448.10,199.57 448.23,200.36 448.35,201.28 448.48,201.71 448.60,202.23 448.73,203.19 448.85,204.23 448.98,204.06 449.10,204.13 449.23,205.14 449.35,205.71 449.48,206.07 449.60,207.00 449.73,207.45 449.85,207.91 449.98,208.08 450.10,208.30 450.23,208.03 450.35,208.57 450.48,208.56 450.60,209.26 450.73,209.23 450.85,209.40 450.98,209.77 451.10,209.52 451.23,210.19 451.35,210.25 451.48,209.46 451.60,210.48 451.73,209.82 451.85,209.69 451.98,209.89 452.10,209.51 452.23,210.22 452.35,210.61 452.48,209.46 452.60,210.31 452.73,210.38 452.85,210.42 452.98,210.42 453.10,210.34 453.23,209.95 453.35,210.54 453.48,210.30 453.60,210.49 453.73,210.28 453.85,210.03 453.98,210.12 454.10,210.39 454.23,210.57 454.35,209.30 454.48,209.56 454.60,209.39 454.73,209.85 454.85,209.78 454.98,210.14 455.10,209.90 455.23,210.58 455.35,209.73 455.48,209.67 455.60,209.60 455.73,209.80 455.85,209.97 455.98,209.66 456.10,209.44 456.23,209.22 456.35,209.85 456.48,209.50 456.60,209.27 456.73,209.54 456.85,209.75 456.98,210.43 457.10,210.20 457.23,209.07 457.35,209.20 457.48,208.48 457.60,208.41 457.73,208.38 457.85,209.47 457.98,208.92 458.10,208.25 458.23,208.47 458.35,208.40 458.48,208.18 458.60,208.92 458.73,207.26 458.85,207.66 458.98,207.70 459.10,207.49 459.23,206.00 459.35,206.61 459.48,205.52 459.60,205.28 459.73,204.24 459.85,204.55 459.98,204.76 460.10,202.96 460.23,201.40 460.35,199.65 460.48,199.53 460.60,198.30 460.73,195.81 460.85,195.05 460.98,192.12 461.10,190.46 461.23,189.08 461.35,186.32 461.48,185.07 461.60,183.11 461.73,180.25 461.85,178.16 461.98,176.39 462.10,173.75 462.23,172.04 462.35,170.21 462.48,167.49 462.60,167.50 462.73,166.02 462.85,164.90 462.98,164.91 463.10,164.81 463.23,165.30 463.35,165.69 463.48,167.20 463.60,168.78 463.73,171.19 463.85,172.92 463.98,175.02 464.10,177.03 464.23,179.89 464.35,180.59 464.48,183.50 464.60,186.51 464.73,188.06 464.85,190.55 464.98,192.88 465.10,194.36 465.23,195.07 465.35,197.16 465.48,198.19 465.60,200.19 465.73,201.60 465.85,202.11 465.98,203.37 466.10,203.90 466.23,205.55 466.35,205.43 466.48,206.04 466.60,206.68 466.73,207.32 466.85,207.54 466.98,207.56 467.10,207.88 467.23,208.32 467.35,208.57 467.48,208.34 467.60,208.42 467.73,208.71 467.85,209.14 467.98,208.87 468.10,208.70 468.23,209.12 468.35,209.14 468.48,209.68 468.60,209.28 468.73,209.39 468.85,210.43 468.98,209.87 469.10,209.34 469.23,210.30 469.35,209.68 469.48,209.53 469.60,210.20 469.73,209.36 469.85,209.97 469.98,210.28 470.10,210.39 470.23,209.88 470.35,209.92 470.48,210.13 470.60,210.71 470.73,209.45 470.85,210.59 470.98,210.40 471.10,210.88 471.23,209.84 471.35,210.83 471.48,209.98 471.60,210.50 471.73,210.22 471.85,209.36 471.98,210.40 472.10,210.61 472.23,210.83 472.35,210.20 472.48,209.99 472.60,210.80 472.73,210.36 472.85,210.97 472.98,211.14 473.10,210.45 473.23,210.48 473.35,210.26 473.48,209.71 473.60,210.58 473.73,210.90 473.85,211.05 473.98,210.60 474.10,211.41 474.23,210.40 474.35,210.62 474.48,210.40 474.60,210.45 474.73,210.53 474.85,210.36 474.98,210.47 475.10,210.78 475.23,210.71 475.35,210.22 475.48,210.88 475.60,210.32 475.73,210.87 475.85,210.70 475.98,209.85 476.10,210.23 476.23,211.08 476.35,210.40 476.48,210.39 476.60,210.48 476.73,210.72 476.85,210.91 476.98,210.53 477.10,211.38 477.23,210.41 477.35,210.45 477.48,210.56 477.60,210.71 477.73,211.25 477.85,211.62 477.98,210.46 478.10,210.53 478.23,210.86 478.35,210.52 478.48,210.93 478.60,210.09 478.73,210.89 478.85,209.57 478.98,210.71 479.10,210.75 479.23,211.50 479.35,210.01 479.48,210.66 479.60,210.59 479.73,209.86 479.85,210.32 479.98,209.77 480.10,209.55 480.23,209.31 480.35,209.75 480.48,209.26 480.60,208.67 480.73,209.52 480.85,208.46 480.98,209.26 481.10,208.81 481.23,208.05 481.35,207.40 481.48,207.32 481.60,206.72 481.73,206.69 481.85,206.21 481.98,206.91 482.10,204.38 482.23,204.44 482.35,204.32 482.48,203.89 482.60,203.38 482.73,201.72 482.85,201.86 482.98,199.64 483.10,200.22 483.23,200.17 483.35,199.66 483.48,198.38 483.60,198.39 483.73,197.68 483.85,198.28 483.98,198.12 484.10,199.07 484.23,198.96 484.35,199.98 484.48,200.18 484.60,200.65 484.73,202.18 484.85,202.56 484.98,202.12 485.10,203.96 485.23,204.33 485.35,205.20 485.48,205.42 485.60,205.00 485.73,206.16 485.85,205.76 485.98,206.67 486.10,207.40 486.23,208.64 486.35,208.44 486.48,208.82 486.60,209.32 486.73,208.84 486.85,209.93 486.98,209.73 487.10,209.37 487.23,209.67 487.35,209.94 487.48,210.41 487.60,210.86 487.73,210.17 487.85,210.28 487.98,211.22 488.10,211.88 488.23,211.32 488.35,210.65 488.48,210.44 488.60,210.93 488.73,210.79 488.85,210.34 488.98,211.30 489.10,211.84 489.23,210.38 489.35,210.42 489.48,210.56 489.60,210.24 489.73,211.17 489.85,210.20 489.98,211.14 490.10,211.03 490.23,211.19 490.35,210.22 490.48,210.95 490.60,211.01 490.73,211.29 490.85,211.07 490.98,210.66 491.10,211.42 491.23,211.54 491.35,211.53 491.48,210.61 491.60,211.18 491.73,210.55 491.85,210.88 491.98,211.29 492.10,210.33 492.23,212.20 492.35,211.51 492.48,210.64 492.60,210.73 492.73,210.95 492.85,210.92 492.98,210.45 493.10,210.93 493.23,210.31 493.35,210.72 493.48,211.79 493.60,210.97 493.73,210.83 493.85,211.70 493.98,211.15 494.10,211.29 494.23,210.76 494.35,211.50 494.48,210.87 494.60,211.40 494.73,211.30 494.85,211.78 494.98,211.46 495.10,211.01 495.23,210.55 495.35,210.89 495.48,210.71 495.60,211.70 495.73,210.82 495.85,210.00 495.98,211.19 496.10,211.38 496.23,210.61 496.35,211.34 496.48,210.43 496.60,211.13 496.73,210.95 496.85,211.16 496.98,211.21 497.10,210.72 497.23,211.38 497.35,210.80 497.48,211.07 497.60,211.65 497.73,210.61 497.85,211.05 497.98,211.73 498.10,211.58 498.23,210.71 498.35,210.74 498.48,211.26 498.60,210.72 498.73,211.04 498.85,210.40 498.98,211.29 499.10,210.29 499.23,211.06 499.35,211.31 499.48,210.70 499.60,210.30 499.73,210.43 499.85,210.14 499.98,211.79 500.10,210.13 500.23,210.41 500.35,211.13 500.48,211.01 500.60,211.44 500.73,211.57 500.85,211.18 500.98,210.95 501.10,210.72 501.23,210.89 501.35,211.39 501.48,211.24 501.60,211.24 501.73,210.20 501.85,210.61 501.98,210.64 502.10,210.70 502.23,210.47 502.35,211.24 502.48,211.41 502.60,211.75 502.73,210.69 502.85,210.88 502.98,210.96 503.10,210.91 503.23,210.53 503.35,211.26 503.48,209.99 503.60,210.68 503.73,210.03 503.85,211.16 503.98,210.25 504.10,210.35 504.23,210.86 504.35,210.39 504.48,210.96 504.60,210.67 504.73,211.71 504.85,210.27 504.98,210.45 505.10,211.06 505.23,210.85 505.35,210.98 505.48,210.64 505.60,211.19 505.73,210.90 505.85,211.33 505.98,210.11 506.10,210.81 506.23,210.58 506.35,210.84 506.48,210.22 506.60,210.98 506.73,209.99 506.85,210.96 506.98,210.77 507.10,209.68 507.23,210.63 507.35,209.53 507.48,210.61 507.60,209.57 507.73,210.20 507.85,210.05 507.98,209.36 508.10,209.18 508.23,210.15 508.35,209.61 508.48,210.21 508.60,209.59 508.73,210.73 508.85,209.43 508.98,210.01 509.10,209.22 509.23,208.94 509.35,208.99 509.48,208.23 509.60,208.10 509.73,208.95 509.85,207.93 509.98,207.31 510.10,207.87 510.23,207.08 510.35,207.31 510.48,207.61 510.60,207.51 510.73,207.60 510.85,207.18 510.98,206.83 511.10,206.70 511.23,206.52 511.35,206.34 511.48,207.38 511.60,206.35 511.73,207.19 511.85,206.46 511.98,207.17 512.10,205.46 512.23,206.96 512.35,206.76 512.48,207.92 512.60,208.06 512.73,207.27 512.85,207.70 512.98,208.32 513.10,208.22 513.23,208.29 513.35,208.85 513.48,207.98 513.60,209.44 513.73,209.06 513.85,207.69 513.98,208.70 514.10,209.18 514.23,210.35 514.35,209.41 514.48,208.82 514.60,210.19 514.73,209.82 514.85,209.69 514.98,210.22 515.10,209.61 515.23,209.77 515.35,210.29 515.48,210.06 515.60,210.30 515.73,209.70 515.85,210.62 515.98,209.20 516.10,209.20 516.23,210.01 516.35,209.60 516.48,209.77 516.60,209.63 516.73,209.45 516.85,208.94 516.98,209.43 517.10,209.73 517.23,208.59 517.35,209.61 517.48,209.23 517.60,207.87 517.73,208.30 517.85,207.08 517.98,207.11 518.10,206.22 518.23,205.97 518.35,204.82 518.48,204.97 518.60,203.91 518.73,203.27 518.85,202.02 518.98,202.14 519.10,202.15 519.23,200.28 519.35,199.52 519.48,198.22 519.60,197.68 519.73,196.71 519.85,195.66 519.98,195.31 520.10,194.94 520.23,194.89 520.35,194.33 520.48,194.49 520.60,194.99 520.73,195.04 520.85,194.79 520.98,194.68 521.10,196.00 521.23,196.83 521.35,198.01 521.48,198.45 521.60,200.49 521.73,199.95 521.85,201.24 521.98,201.37 522.10,202.14 522.23,203.23 522.35,204.18 522.48,205.08 522.60,203.99 522.73,206.49 522.85,207.19 522.98,207.60 523.10,207.80 523.23,207.74 523.35,208.38 523.48,209.00 523.60,208.24 523.73,209.20 523.85,209.32 523.98,209.20 524.10,210.21 524.23,209.21 524.35,209.18 524.48,209.69 524.60,209.50 524.73,210.45 524.85,209.16 524.98,209.36 525.10,210.14 525.23,210.37 525.35,209.53 525.48,210.67 525.60,209.25 525.73,210.60 525.85,209.75 525.98,209.95 526.10,210.99 526.23,210.16 526.35,209.91 526.48,210.32 526.60,211.06 526.73,210.25 526.85,209.88 526.98,210.32 527.10,209.67 527.23,209.92 527.35,209.97 527.48,210.52 527.60,210.00 527.73,210.43 527.85,210.73 527.98,210.92 528.10,209.44 528.23,210.16 528.35,209.66 528.48,210.45 528.60,210.26 528.73,210.13 528.85,209.88 528.98,209.67 529.10,209.32 529.23,210.50 529.35,209.95 529.48,210.03 529.60,210.13 529.73,210.31 529.85,210.76 529.98,209.80 530.10,210.13 530.23,209.05 530.35,209.56 530.48,209.35 530.60,209.32 530.73,210.04 530.85,209.48 530.98,209.35 531.10,209.23 531.23,208.95 531.35,208.79 531.48,208.40 531.60,208.22 531.73,208.01 531.85,207.81 531.98,206.70 532.10,207.17 532.23,206.66 532.35,206.34 532.48,205.06 532.60,204.48 532.73,204.53 532.85,203.04 532.98,202.69 533.10,201.21 533.23,199.95 533.35,198.74 533.48,197.98 533.60,196.84 533.73,195.28 533.85,195.22 533.98,193.37 534.10,191.76 534.23,191.67 534.35,190.31 534.48,188.67 534.60,187.76 534.73,187.54 534.85,187.55 534.98,186.44 535.10,187.65 535.23,187.27 535.35,188.34 535.48,188.62 535.60,189.78 535.73,190.87 535.85,192.28 535.98,192.57 536.10,194.96 536.23,194.79 536.35,196.73 536.48,198.10 536.60,198.98 536.73,200.48 536.85,200.43 536.98,202.12 537.10,203.50 537.23,203.90 537.35,204.17 537.48,205.42 537.60,206.06 537.73,206.08 537.85,207.60 537.98,207.20 538.10,207.36 538.23,208.19 538.35,208.14 538.48,208.59 538.60,208.99 538.73,208.88 538.85,209.48 538.98,209.49 539.10,210.01 539.23,209.13 539.35,209.69 539.48,209.85 539.60,209.93 539.73,208.93 539.85,209.45 539.98,210.12 540.10,210.27 540.23,210.07 540.35,210.17 540.48,210.67 540.60,210.00 540.73,209.85 540.85,210.88 540.98,210.51 541.10,210.19 541.23,209.97 541.35,211.02 541.48,210.21 541.60,209.99 541.73,210.93 541.85,209.73 541.98,210.33 542.10,210.69 542.23,210.30 542.35,210.22 542.48,210.65 542.60,209.93 542.73,210.39 542.85,210.81 542.98,210.02 543.10,211.13 543.23,210.43 543.35,210.50 543.48,210.33 543.60,210.81 543.73,210.35 543.85,210.67 543.98,211.13 544.10,211.13 544.23,209.91 544.35,211.19 544.48,210.38 544.60,210.74 544.73,210.65 544.85,210.74 544.98,210.35 545.10,210.88 545.23,211.08 545.35,210.38 545.48,210.63 545.60,211.00 545.73,211.12 545.85,210.79 545.98,210.77 546.10,210.87 546.23,210.50 546.35,210.80 546.48,210.54 546.60,210.51 546.73,209.62 546.85,209.87 546.98,210.83 547.10,211.00 547.23,210.87 547.35,210.71 547.48,210.54 547.60,210.92 547.73,210.49 547.85,210.67 547.98,211.33 548.10,210.06 548.23,210.41 548.35,210.56 548.48,209.82 548.60,210.14 548.73,211.14 548.85,210.89 548.98,210.60 549.10,211.24 549.23,210.23 549.35,211.51 549.48,210.63 549.60,210.39 549.73,211.14 549.85,210.89 549.98,210.74 550.10,210.60 550.23,209.84 550.35,209.72 550.48,210.64 550.60,211.06 550.73,210.28 550.85,210.66 550.98,209.93 551.10,209.95 551.23,210.58 551.35,210.91 551.48,210.92 551.60,211.12 551.73,210.23 551.85,210.50 551.98,210.91 552.10,210.10 552.23,210.41 552.35,210.53 552.48,210.51 552.60,210.89 552.73,210.67 552.85,210.27 552.98,209.41 553.10,210.77 553.23,210.83 553.35,210.58 553.48,210.47 553.60,210.47 553.73,210.76 553.85,209.94 553.98,210.07 554.10,209.58 554.23,209.85 554.35,209.49 554.48,209.39 554.60,208.77 554.73,209.49 554.85,209.86 554.98,207.95 555.10,209.71 555.23,208.98 555.35,208.55 555.48,208.84 555.60,208.46 555.73,208.40 555.85,208.94 555.98,208.27 556.10,208.27 556.23,207.93 556.35,207.93 556.48,207.59 556.60,207.96 556.73,207.71 556.85,208.63 556.98,208.11 557.10,208.63 557.23,208.99 557.35,208.98 557.48,208.34 557.60,209.49 557.73,208.01 557.85,209.58 557.98,207.92 558.10,208.72 558.23,209.15 558.35,208.92 558.48,208.34 558.60,208.65 558.73,209.44 558.85,208.57 558.98,209.60 559.10,209.80 559.23,209.86 559.35,209.32 559.48,209.13 559.60,208.91 559.73,210.23 559.85,209.45 559.98,209.10 560.10,208.86 560.23,209.07 560.35,207.62 560.48,208.71 560.60,207.93 560.73,207.01 560.85,208.37 560.98,207.38 561.10,207.75 561.23,207.05 561.35,207.03 561.48,207.75 561.60,207.00 561.73,206.85 561.85,205.81 561.98,206.73 562.10,205.88 562.23,206.22 562.35,205.41 562.48,205.89 562.60,205.84 562.73,204.85 562.85,205.55 562.98,204.94 563.10,205.85 563.23,205.43 563.35,205.29 563.48,206.64 563.60,205.71 563.73,205.23 563.85,205.88 563.98,205.72 564.10,206.32 564.23,205.41 564.35,206.88 564.48,205.94 564.60,206.16 564.73,206.18 564.85,206.55 564.98,207.72 565.10,207.13 565.23,206.75 565.35,207.34 565.48,207.70 565.60,208.19 565.73,207.79 565.85,208.18 565.98,209.56 566.10,208.35 566.23,208.60 566.35,208.16 566.48,209.25 566.60,208.74 566.73,209.89 566.85,209.72 566.98,209.65 567.10,209.16 567.23,209.33 567.35,209.39 567.48,209.68 567.60,209.56 567.73,209.55 567.85,209.89 567.98,209.89 568.10,209.79 568.23,210.41 568.35,210.51 568.48,209.84 568.60,211.08 568.73,210.33 568.85,210.73 568.98,211.05 569.10,209.61 569.23,210.48 569.35,210.68 569.48,210.83 569.60,210.66 569.73,210.77 569.85,209.66 569.98,209.91 570.10,210.59 570.23,209.44 570.35,210.10 570.48,210.26 570.60,210.50 570.73,210.73 570.85,210.42 570.98,209.93 571.10,209.85 571.23,210.43 571.35,210.48 571.48,210.35 571.60,210.20 571.73,210.14 571.85,209.41 571.98,209.96 572.10,210.24 572.23,209.32 572.35,209.93 572.48,209.96 572.60,210.59 572.73,209.42 572.85,209.24 572.98,208.70 573.10,208.65 573.23,208.31 573.35,208.14 573.48,209.16 573.60,208.78 573.73,208.86 573.85,207.98 573.98,207.77 574.10,207.89 574.23,209.44 574.35,209.27 574.48,208.25 574.60,208.98 574.73,209.10 574.85,208.70 574.98,208.96 575.10,209.78 575.23,209.79 575.35,209.98 575.48,209.83 575.60,209.84 575.73,210.10 575.85,209.90 575.98,210.80 576.10,210.22 576.23,210.43 576.35,210.21 576.48,210.00 576.60,210.33 576.73,210.24 576.85,210.07 576.98,210.82 577.10,211.38 577.23,210.64 577.35,210.49 577.48,210.23 577.60,209.91 577.73,210.85 577.85,210.85 577.98,210.25 578.10,210.65 578.23,210.24 578.35,211.26 578.48,210.69 578.60,210.84 578.73,211.41 578.85,209.66 578.98,210.84 579.10,210.78 579.23,210.54 579.35,210.68 579.48,211.23 579.60,210.39 579.73,210.40 579.85,211.46 579.98,211.15 580.10,210.91 580.23,211.06 580.35,210.74 580.48,210.57 580.60,210.64 580.73,210.85 580.85,210.51 580.98,210.01 581.10,210.64 581.23,210.84 581.35,210.66 581.48,211.02 581.60,210.85 581.73,211.15 581.85,210.78 581.98,210.65 582.10,210.98 582.23,211.12 582.35,210.53 582.48,210.35 582.60,211.32 582.73,210.50 582.85,210.90 582.98,210.52 583.10,210.83 583.23,211.35 583.35,211.48 583.48,210.15 583.60,210.09 583.73,209.25 583.85,210.99 583.98,211.42 584.10,210.85 584.23,210.60 584.35,211.10 584.48,210.32 584.60,211.02 584.73,211.33 584.85,211.28 584.98,211.04 585.10,210.51 585.23,210.58 585.35,210.32 585.48,211.55 585.60,211.28 585.73,210.70 585.85,210.69 585.98,210.83 586.10,210.43 586.23,210.95 586.35,210.94 586.48,210.91 586.60,210.74 586.73,209.61 586.85,210.63 586.98,210.09 587.10,209.97 587.23,211.70 587.35,210.49 587.48,210.62 587.60,210.57 587.73,210.33 587.85,211.42 587.98,209.89 588.10,210.91 588.23,210.44 588.35,211.26 588.48,211.07 588.60,210.73 588.73,210.03 588.85,211.03 588.98,211.11 589.10,210.97 589.23,210.55 589.35,210.95 589.48,210.33 589.60,210.78 589.73,210.83 589.85,210.56 589.98,210.22 590.10,210.56 590.23,210.26 590.35,210.12 590.48,211.11 590.60,210.57 590.73,210.41 590.85,210.40 590.98,210.82 591.10,210.48 591.23,210.31 591.35,210.73 591.48,210.67 591.60,210.20 591.73,210.12 591.85,211.17 591.98,210.46 592.10,211.11 592.23,210.84 592.35,210.53 592.48,210.45 592.60,211.27 592.73,210.26 592.85,210.36 592.98,210.16 593.10,210.45 593.23,210.09 593.35,210.54 593.48,209.92 593.60,210.70 593.73,210.60 593.85,210.53 593.98,210.16 594.10,210.97 594.23,211.27 594.35,210.30 594.48,210.00 594.60,210.59 594.73,210.18 594.85,210.30 594.98,210.48 595.10,209.55 595.23,210.41 595.35,209.56 595.48,209.39 595.60,209.69 595.73,210.40 595.85,209.36 595.98,209.71 596.10,208.94 596.23,209.45 596.35,209.12 596.48,209.27 596.60,208.60 596.73,208.25 596.85,207.13 596.98,207.78 597.10,207.64 597.23,207.01 597.35,206.62 597.48,206.39 597.60,206.11 597.73,204.91 597.85,204.86 597.98,204.67 598.10,204.20 598.23,203.30 598.35,202.52 598.48,203.26 598.60,203.22 598.73,203.49 598.85,202.86 598.98,202.29 599.10,202.96 599.23,202.87 599.35,202.85 599.48,202.79 599.60,202.95 599.73,203.82 599.85,204.33 599.98,204.95 600.10,205.34 600.23,205.85 600.35,207.00 600.48,206.52 600.60,207.53 600.73,206.93 600.85,207.28 600.98,207.68 601.10,207.40 601.23,209.19 601.35,208.79 601.48,209.21 601.60,209.84 601.73,209.43 601.85,210.09 601.98,208.44 602.10,210.15 602.23,209.81 602.35,209.50 602.48,210.29 602.60,209.87 602.73,209.58 602.85,209.05 602.98,210.73 603.10,208.79 603.23,209.99 603.35,210.67 603.48,210.24 603.60,209.66 603.73,209.81 603.85,209.63 603.98,209.99 604.10,209.82 604.23,209.24 604.35,209.13 604.48,210.25 604.60,209.12 604.73,209.14 604.85,210.62 604.98,209.15 605.10,208.87 605.23,208.96 605.35,209.66 605.48,208.91 605.60,209.10 605.73,208.05 605.85,208.72 605.98,208.92 606.10,208.84 606.23,209.38 606.35,208.86 606.48,207.24 606.60,207.71 606.73,207.95 606.85,208.12 606.98,208.19 607.10,208.36 607.23,207.24 607.35,206.92 607.48,208.21 607.60,207.35 607.73,206.69 607.85,207.28 607.98,207.48 608.10,207.13 608.23,207.14 608.35,208.13 608.48,207.21 608.60,207.87 608.73,207.88 608.85,207.68 608.98,208.97 609.10,207.37 609.23,209.22 609.35,207.72 609.48,208.12 609.60,208.48 609.73,208.94 609.85,208.85 609.98,208.48 610.10,208.58 610.23,209.37 610.35,209.63 610.48,208.79 610.60,209.68 610.73,209.48 610.85,209.43 610.98,208.90 611.10,208.91 611.23,209.75 611.35,208.38 611.48,209.48 611.60,209.96 611.73,209.08 611.85,210.63 611.98,210.70 612.10,209.52 612.23,210.00 612.35,210.04 612.48,209.90 612.60,209.96 612.73,210.43 612.85,211.00 612.98,210.32 613.10,210.36 613.23,210.40 613.35,210.05 613.48,210.66 613.60,210.18 613.73,209.98 613.85,210.73 613.98,209.62 614.10,210.24 614.23,210.31 614.35,210.43 614.48,209.81 614.60,210.09 614.73,210.46 614.85,210.81 614.98,210.49 615.10,210.46 615.23,210.18 615.35,210.57 615.48,209.32 615.60,210.86 615.73,211.01 615.85,210.58 615.98,210.15 616.10,211.19 616.23,210.29 616.35,211.20 616.48,210.48 616.60,210.27 616.73,210.52 616.85,210.31 616.98,210.54 617.10,210.84 617.23,210.51 617.35,210.42 617.48,210.62 617.60,210.80 617.73,210.63 617.85,210.88 617.98,210.89 618.10,210.77 618.23,210.96 618.35,210.65 618.48,211.15 618.60,210.82 618.73,211.02 618.85,210.56 618.98,210.01 619.10,210.45 619.23,210.66 619.35,210.81 619.48,210.63 619.60,211.30 619.73,210.07 619.85,209.86 619.98,210.56 620.10,210.34 620.23,210.66 620.35,210.94 620.48,211.85 620.60,210.06 620.73,210.16 620.85,210.61 620.98,209.98 621.10,210.30 621.23,211.21 621.35,210.61 621.48,210.62 621.60,211.12 621.73,209.87 621.85,210.68 621.98,210.60 622.10,210.74 622.23,210.17 622.35,210.42 622.48,210.56 622.60,210.93 622.73,210.28 622.85,210.87 622.98,209.65 623.10,210.77 623.23,210.92 623.35,210.17 623.48,210.43 623.60,210.55 623.73,210.67 623.85,211.06 623.98,210.61 624.10,210.41 624.23,210.41 624.35,210.60 624.48,210.81 624.60,210.56 624.73,210.19 624.85,210.26 624.98,210.04 625.10,209.98 625.23,210.12 625.35,210.05 625.48,210.61 625.60,209.72 625.73,210.23 625.85,209.65 625.98,210.46 626.10,210.20 626.23,210.57 626.35,210.20 626.48,209.46 626.60,209.86 626.73,209.50 626.85,209.48 626.98,209.19 627.10,209.42 627.23,209.52 627.35,209.48 627.48,210.39 627.60,209.14 627.73,209.16 627.85,208.99 627.98,208.82 628.10,208.70 628.23,208.76 628.35,208.55 628.48,208.86 628.60,208.63 628.73,207.96 628.85,208.26 628.98,208.30 629.10,207.97 629.23,207.92 629.35,207.91 629.48,208.16 629.60,207.93 629.73,207.59 629.85,207.78 629.98,208.33 630.10,207.38 630.23,208.09 630.35,207.73 630.48,209.49 630.60,208.20 630.73,208.01 630.85,208.01 630.98,207.48 631.10,208.00 631.23,209.17 631.35,208.55 631.48,208.37 631.60,208.59 631.73,208.71 631.85,208.38 631.98,208.93 632.10,209.20 632.23,208.44 632.35,209.07 632.48,208.08 632.60,208.62 632.73,209.79 632.85,210.04 632.98,210.39 633.10,209.11 633.23,209.70 633.35,209.65 633.48,210.32 633.60,210.06 633.73,210.01 633.85,210.28 633.98,209.87 634.10,210.53 634.23,210.00 634.35,210.66 634.48,210.30 634.60,210.35 634.73,209.78 634.85,209.63 634.98,209.64 635.10,210.54 635.23,209.42 635.35,210.94 635.48,210.22 635.60,209.79 635.73,210.51 635.85,209.83 635.98,210.37 636.10,210.23 636.23,210.85 636.35,210.71 636.48,210.71 636.60,210.09 636.73,210.79 636.85,210.20 636.98,210.25 637.10,210.36 637.23,210.24 637.35,209.51 637.48,210.32 637.60,209.32 637.73,210.15 637.85,209.86 637.98,209.87 638.10,209.31 638.23,210.15 638.35,209.60 638.48,209.97 638.60,209.24 638.73,209.19 638.85,209.47 638.98,209.84 639.10,208.79 639.23,209.07 639.35,209.08 639.48,209.16 639.60,209.07 639.73,209.72 639.85,209.58 639.98,209.30 640.10,209.68 640.23,209.80 640.35,209.14 640.48,209.14 640.60,209.80 640.73,210.47 640.85,208.61 640.98,209.42 641.10,210.09 641.23,209.47 641.35,210.25 641.48,210.04 641.60,209.46 641.73,209.86 641.85,210.27 641.98,209.78 642.10,210.47 642.23,210.40 642.35,210.18 642.48,210.52 642.60,210.24 642.73,210.52 642.85,210.03 642.98,211.10 643.10,210.41 643.23,211.04 643.35,211.49 643.48,211.27 643.60,210.60 643.73,210.69 643.85,210.62 643.98,210.79 644.10,210.31 644.23,209.90 644.35,210.83 644.48,210.72 644.60,211.37 644.73,211.49 644.85,210.14 644.98,210.33 645.10,211.07 645.23,211.25 645.35,210.80 645.48,210.78 645.60,209.96 645.73,211.74 645.85,210.46 645.98,211.01 646.10,210.92 646.23,210.39 646.35,211.15 646.48,211.41 646.60,210.76 646.73,210.85 646.85,211.07 646.98,211.21 647.10,211.17 647.23,210.42 647.35,210.40 647.48,210.56 647.60,209.65 647.73,210.24 647.85,210.72 647.98,210.52 648.10,210.45 648.23,211.19 648.35,210.96 648.48,211.17 648.60,210.75 648.73,210.64 648.85,210.45 648.98,210.93 649.10,210.05 649.23,210.45 649.35,211.08 649.48,211.19 649.60,210.80 649.73,210.34 649.85,211.08 649.98,210.52 650.10,210.79 650.23,210.43 650.35,211.64 650.48,211.50 650.60,210.51 650.73,210.38 650.85,210.86 650.98,211.16 651.10,211.44 651.23,210.88 651.35,210.38 651.48,211.05 651.60,211.04 651.73,210.25 651.85,210.83 651.98,210.82 652.10,210.54 652.23,211.06 652.35,211.42 652.48,211.41 652.60,210.60 652.73,210.74 652.85,211.30 652.98,210.86 653.10,210.86 653.23,211.97 653.35,209.93 653.48,210.75 653.60,210.68 653.73,211.03 653.85,211.79 653.98,211.00 654.10,210.95 654.23,211.15 654.35,210.95 654.48,211.25 654.60,212.19 654.73,210.81 654.85,211.02 654.98,211.09 655.10,210.22 655.23,211.39 655.35,211.11 655.48,210.30 655.60,211.04 655.73,211.23 655.85,210.78 655.98,211.64 656.10,210.93 656.23,210.55 656.35,211.54 656.48,211.14 656.60,211.27 656.73,210.52 656.85,210.63 656.98,210.80 657.10,211.17 657.23,211.19 657.35,211.84 657.48,211.92 657.60,211.32 657.73,211.23 657.85,212.09 657.98,211.31 658.10,211.73 658.23,211.09 658.35,211.26 658.48,211.19 658.60,211.02 658.73,211.49 658.85,210.98 658.98,211.29 659.10,211.52 659.23,212.26 659.35,210.54 659.48,211.40 659.60,211.66 659.73,211.23 659.85,211.76 659.98,211.62 660.10,211.61 660.23,211.23 660.35,211.32 660.48,211.32 660.60,211.00 660.73,211.51 660.85,210.99 660.98,211.05 661.10,210.86 661.23,211.93 661.35,211.23 661.48,211.09 661.60,211.82 661.73,211.31 661.85,211.64 661.98,211.43 662.10,211.66 662.23,211.60 662.35,210.59 662.48,212.16 662.60,211.97 662.73,210.92 662.85,211.93 662.98,211.46 663.10,211.61 663.23,212.12 663.35,212.00 663.48,212.00 663.60,212.45 663.73,212.06 663.85,211.35 663.98,211.06 664.10,211.98 664.23,210.89 664.35,211.48 664.48,211.48 664.60,211.34 664.73,212.23 664.85,211.79 664.98,211.57 665.10,212.05 665.23,211.50 665.35,212.20 665.48,212.57 665.60,211.64 665.73,211.63 665.85,212.20 665.98,210.88 666.10,211.19 666.23,211.29 666.35,211.04 666.48,211.74 666.60,211.88 666.73,211.75 666.85,211.75 666.98,212.16 667.10,212.24 667.23,212.32 667.35,211.73 667.48,211.80 667.60,212.43 667.73,211.99 667.85,212.38 667.98,211.62 668.10,211.81 668.23,211.56 668.35,211.83 668.48,212.03 668.60,211.67 668.73,212.70 668.85,211.23 668.98,212.25 669.10,211.41 669.23,212.01 669.35,211.55 669.48,211.91" fill="none" stroke="#008a00" stroke-width="1.9" stroke-linejoin="round"/>
<path d="M547.6 18.3H579.8" stroke="#000" stroke-width="2"/>
<text x="583.3" y="23.20" font-size="14.0">cCNT-SPIONs</text>
<path d="M547.6 86.85H579.8" stroke="#d81010" stroke-width="2"/>
<text x="583.3" y="91.75" font-size="14.0">cCNT</text>
<path d="M547.6 138.2H579.8" stroke="#0000d0" stroke-width="2"/>
<text x="583.3" y="143.10" font-size="14.0">CNT</text>
<path d="M547.6 188.95H579.8" stroke="#0a820a" stroke-width="2"/>
<text x="583.3" y="193.85" font-size="14.0">SPIONs</text>
</svg></body></html>
